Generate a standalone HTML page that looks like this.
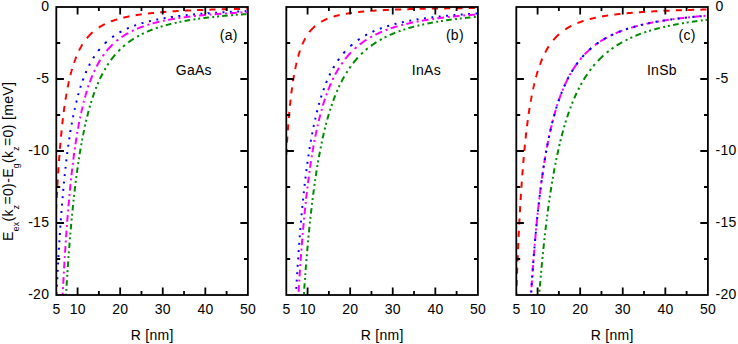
<!DOCTYPE html>
<html><head><meta charset="utf-8"><style>
html,body{margin:0;padding:0;background:#fff;}
body{width:738px;height:344px;overflow:hidden;}
svg{display:block;}
svg text{font-family:"Liberation Sans",sans-serif;}
</style></head><body>
<svg width="738" height="344" viewBox="0 0 738 344">
<defs>
<clipPath id="c0"><rect x="56.30" y="7.00" width="191.60" height="288.00"/></clipPath>
<clipPath id="c1"><rect x="286.30" y="7.00" width="191.60" height="288.00"/></clipPath>
<clipPath id="c2"><rect x="516.30" y="7.00" width="191.60" height="288.00"/></clipPath>
</defs>
<g clip-path="url(#c0)" fill="none" stroke-width="2" stroke-linecap="butt">
<path stroke="#f00" d="M54.60 245.18 54.61 244.90 54.67 243.24 54.73 241.60 54.75 241.05M55.00 234.86 55.01 234.67 55.07 233.12 55.13 231.58 55.20 230.06 55.25 228.76M55.52 222.57 55.52 222.44 55.58 221.01 55.65 219.59 55.71 218.19 55.77 216.80 55.79 216.47M56.08 210.28 56.09 210.07 56.15 208.76 56.21 207.46 56.28 206.18 56.34 204.91 56.38 204.18M56.70 197.99 56.70 197.94 56.76 196.75 56.82 195.57 56.89 194.40 56.95 193.24 57.01 192.09 57.02 191.89M57.38 185.70 57.38 185.61 57.44 184.53 57.51 183.47 57.57 182.41 57.63 181.36 57.70 180.32 57.74 179.60M58.13 173.41 58.14 173.31 58.20 172.34 58.26 171.38 58.33 170.43 58.39 169.49 58.45 168.56 58.52 167.63 58.54 167.31M58.98 161.12 58.98 161.08 59.04 160.22 59.10 159.37 59.17 158.52 59.23 157.68 59.29 156.85 59.36 156.02 59.42 155.21 59.43 155.02M59.93 148.83 59.93 148.77 60.00 148.01 60.06 147.25 60.12 146.51 60.19 145.77 60.25 145.03 60.31 144.30 60.38 143.58 60.44 142.86 60.45 142.73M61.02 136.54 61.03 136.43 61.09 135.77 61.15 135.11 61.22 134.46 61.28 133.82 61.34 133.17 61.40 132.54 61.47 131.91 61.53 131.28 61.59 130.66 61.62 130.44M62.27 124.25 62.28 124.21 62.34 123.64 62.40 123.08 62.47 122.52 62.53 121.96 62.59 121.41 62.66 120.86 62.72 120.32 62.78 119.78 62.84 119.24 62.91 118.71 62.97 118.18 62.97 118.15M63.75 111.96 63.75 111.95 63.81 111.47 63.87 110.99 63.94 110.52 64.00 110.05 64.06 109.58 64.13 109.11 64.19 108.65 64.25 108.19 64.31 107.74 64.38 107.29 64.44 106.84 64.50 106.39 64.57 105.95 64.58 105.86M65.51 99.67 65.51 99.64 65.58 99.25 65.64 98.85 65.70 98.46 65.76 98.07 65.83 97.68 65.89 97.29 65.95 96.91 66.02 96.53 66.08 96.15 66.14 95.77 66.21 95.40 66.27 95.03 66.33 94.66 66.40 94.29 66.46 93.93 66.52 93.57 66.52 93.57M67.67 87.38 67.68 87.32 67.74 87.00 67.80 86.68 67.87 86.37 67.93 86.05 67.99 85.74 68.06 85.43 68.12 85.12 68.18 84.81 68.24 84.50 68.31 84.20 68.37 83.90 68.43 83.60 68.50 83.30 68.56 83.00 68.62 82.71 68.69 82.41 68.75 82.12 68.81 81.83 68.87 81.54 68.93 81.28M70.39 75.09 70.40 75.06 70.46 74.81 70.52 74.57 70.59 74.32 70.65 74.07 70.71 73.83 70.78 73.59 70.84 73.35 70.90 73.11 70.97 72.87 71.03 72.63 71.09 72.39 71.15 72.16 71.22 71.92 71.28 71.69 71.34 71.46 71.41 71.23 71.47 71.00 71.53 70.78 71.60 70.55 71.66 70.32 71.72 70.10 71.78 69.88 71.85 69.66 71.91 69.44 71.97 69.22 72.04 69.00 72.04 68.99M73.99 62.80 73.99 62.78 74.05 62.60 74.12 62.42 74.18 62.23 74.24 62.05 74.31 61.87 74.37 61.69 74.43 61.51 74.50 61.33 74.56 61.16 74.62 60.98 74.68 60.80 74.75 60.63 74.81 60.45 74.87 60.28 74.94 60.11 75.00 59.94 75.06 59.77 75.13 59.60 75.19 59.43 75.25 59.26 75.31 59.09 75.38 58.93 75.44 58.76 75.50 58.60 75.57 58.43 75.63 58.27 75.69 58.11 75.76 57.95 75.82 57.79 75.88 57.63 75.95 57.47 76.01 57.31 76.07 57.15 76.13 56.99 76.20 56.84 76.25 56.70M79.03 50.51 79.03 50.50 79.10 50.38 79.16 50.25 79.22 50.12 79.29 50.00 79.35 49.88 79.41 49.75 79.48 49.63 79.54 49.51 79.60 49.38 79.66 49.26 79.73 49.14 79.79 49.02 79.85 48.90 79.92 48.78 79.98 48.66 80.04 48.54 80.11 48.42 80.17 48.31 80.23 48.19 80.29 48.07 80.36 47.96 80.42 47.84 80.48 47.73 80.55 47.61 80.61 47.50 80.67 47.38 80.74 47.27 80.80 47.16 80.86 47.05 80.92 46.93 80.99 46.82 81.05 46.71 81.11 46.60 81.18 46.49 81.24 46.38 81.30 46.27 81.37 46.17 81.43 46.06 81.49 45.95 81.56 45.84 81.62 45.74 81.68 45.63 81.74 45.52 81.81 45.42 81.87 45.31 81.93 45.21 82.00 45.11 82.06 45.00 82.12 44.90 82.19 44.80 82.25 44.69 82.31 44.59 82.37 44.49 82.43 44.41M86.85 38.22 86.86 38.21 87.18 37.82 87.51 37.44 87.83 37.06 88.15 36.69 88.48 36.33 88.80 35.97 89.13 35.63 89.45 35.28 89.77 34.95 90.10 34.62 90.42 34.29 90.74 33.97 91.07 33.66 91.39 33.35 91.72 33.05 92.04 32.75 92.36 32.46 92.59 32.25M98.78 27.56 98.84 27.53 99.16 27.32 99.48 27.11 99.81 26.91 100.13 26.71 100.46 26.52 100.78 26.32 101.10 26.13 101.43 25.95 101.75 25.76 102.07 25.58 102.40 25.40 102.72 25.23 103.04 25.05 103.37 24.88 103.69 24.71 104.02 24.54 104.34 24.38 104.66 24.22 104.88 24.11M111.07 21.43 111.08 21.42 111.41 21.30 111.73 21.18 112.05 21.06 112.38 20.94 112.70 20.83 113.03 20.71 113.35 20.60 113.67 20.49 114.00 20.37 114.32 20.26 114.64 20.16 114.97 20.05 115.29 19.94 115.62 19.84 115.94 19.74 116.26 19.64 116.59 19.53 116.91 19.44 117.17 19.36M123.36 17.68 123.38 17.67 123.71 17.59 124.03 17.52 124.35 17.44 124.68 17.36 125.00 17.29 125.33 17.22 125.65 17.14 125.97 17.07 126.30 17.00 126.62 16.93 126.94 16.86 127.27 16.79 127.59 16.72 127.92 16.65 128.24 16.58 128.56 16.52 128.89 16.45 129.21 16.39 129.46 16.33M135.65 15.21 135.68 15.21 136.01 15.16 136.33 15.10 136.66 15.05 136.98 15.00 137.30 14.95 137.63 14.90 137.95 14.85 138.27 14.80 138.60 14.75 138.92 14.70 139.25 14.65 139.57 14.61 139.89 14.56 140.22 14.51 140.54 14.46 140.86 14.42 141.19 14.37 141.51 14.33 141.75 14.29M147.94 13.51 147.98 13.50 148.31 13.47 148.63 13.43 148.96 13.39 149.28 13.36 149.60 13.32 149.93 13.28 150.25 13.25 150.57 13.21 150.90 13.18 151.22 13.14 151.55 13.11 151.87 13.07 152.19 13.04 152.52 13.01 152.84 12.97 153.16 12.94 153.49 12.91 153.81 12.87 154.04 12.85M160.23 12.28 160.29 12.27 160.61 12.25 160.93 12.22 161.26 12.19 161.58 12.16 161.90 12.14 162.23 12.11 162.55 12.09 162.88 12.06 163.20 12.03 163.52 12.01 163.85 11.98 164.17 11.96 164.49 11.93 164.82 11.91 165.14 11.88 165.46 11.86 165.79 11.83 166.11 11.81 166.33 11.79M172.52 11.36 172.53 11.36 172.86 11.34 173.18 11.32 173.50 11.30 173.83 11.28 174.15 11.26 174.47 11.24 174.80 11.22 175.12 11.20 175.45 11.18 175.77 11.16 176.09 11.14 176.42 11.12 176.74 11.10 177.06 11.08 177.39 11.06 177.71 11.04 178.03 11.03 178.36 11.01 178.62 10.99M184.81 10.66 184.83 10.66 185.16 10.64 185.48 10.63 185.80 10.61 186.13 10.60 186.45 10.58 186.77 10.56 187.10 10.55 187.42 10.53 187.75 10.52 188.07 10.50 188.39 10.49 188.72 10.47 189.04 10.46 189.36 10.44 189.69 10.43 190.01 10.41 190.34 10.40 190.66 10.38 190.91 10.37M197.10 10.11 197.13 10.11 197.46 10.10 197.78 10.09 198.10 10.07 198.43 10.06 198.75 10.05 199.08 10.04 199.40 10.02 199.72 10.01 200.05 10.00 200.37 9.99 200.69 9.97 201.02 9.96 201.34 9.95 201.66 9.94 201.99 9.93 202.31 9.92 202.64 9.90 202.96 9.89 203.20 9.88M209.39 9.68 209.43 9.67 209.76 9.66 210.08 9.65 210.40 9.64 210.73 9.63 211.05 9.62 211.38 9.61 211.70 9.60 212.02 9.59 212.35 9.58 212.67 9.57 212.99 9.56 213.32 9.56 213.64 9.55 213.97 9.54 214.29 9.53 214.61 9.52 214.94 9.51 215.26 9.50 215.49 9.49M221.68 9.32 221.73 9.32 222.06 9.31 222.38 9.30 222.71 9.30 223.03 9.29 223.35 9.28 223.68 9.27 224.00 9.26 224.32 9.26 224.65 9.25 224.97 9.24 225.30 9.23 225.62 9.22 225.94 9.22 226.27 9.21 226.59 9.20 226.91 9.19 227.24 9.18 227.56 9.18 227.78 9.17M233.97 9.03 233.98 9.03 234.30 9.03 234.63 9.02 234.95 9.01 235.28 9.01 235.60 9.00 235.92 8.99 236.25 8.98 236.57 8.98 236.89 8.97 237.22 8.96 237.54 8.96 237.87 8.95 238.19 8.95 238.51 8.94 238.84 8.93 239.16 8.93 239.48 8.92 239.81 8.91 240.07 8.91M246.26 8.79 246.28 8.79 246.61 8.79 246.93 8.78 247.25 8.77 247.58 8.77 247.90 8.76"/>
<path stroke="#00f" d="M55.93 307.93 55.94 307.68 55.99 306.66M56.22 301.20 56.23 301.18 56.29 299.77 56.31 299.30M56.56 293.84 56.56 293.75 56.62 292.39 56.65 291.94M56.90 286.48 56.91 286.39 56.97 285.08 57.00 284.58M57.26 279.12 57.27 279.10 57.33 277.84 57.36 277.22M57.64 271.76 57.64 271.69 57.71 270.49 57.74 269.86M58.03 264.40 58.04 264.20 58.11 263.05 58.14 262.50M58.44 257.04 58.44 257.03 58.51 255.93 58.55 255.14M58.87 249.68 58.87 249.63 58.94 248.58 58.98 247.78M59.32 242.32 59.32 242.23 59.39 241.22 59.44 240.42M59.79 234.96 59.80 234.84 59.86 233.88 59.91 233.06M60.28 227.60 60.29 227.49 60.35 226.58 60.42 225.70M60.80 220.24 60.81 220.21 60.87 219.34 60.93 218.48 60.94 218.34M61.35 212.88 61.35 212.87 61.42 212.05 61.48 211.23 61.50 210.98M61.93 205.52 61.94 205.39 62.00 204.61 62.07 203.84 62.08 203.62M62.54 198.16 62.55 198.07 62.61 197.34 62.68 196.61 62.71 196.26M63.19 190.80 63.20 190.69 63.26 190.00 63.33 189.31 63.37 188.90M63.88 183.44 63.88 183.41 63.95 182.75 64.01 182.11 64.07 181.54M64.62 176.08 64.62 176.04 64.68 175.43 64.75 174.82 64.81 174.22 64.81 174.18M65.40 168.72 65.41 168.65 65.47 168.08 65.53 167.52 65.60 166.95 65.61 166.82M66.24 161.36 66.25 161.30 66.31 160.77 66.37 160.24 66.44 159.72 66.47 159.46M67.15 154.00 67.15 153.95 67.21 153.45 67.28 152.96 67.34 152.47 67.39 152.10M68.12 146.64 68.13 146.57 68.19 146.12 68.25 145.66 68.32 145.21 68.38 144.76 68.38 144.74M69.18 139.28 69.18 139.25 69.24 138.83 69.31 138.41 69.37 138.00 69.43 137.58 69.46 137.38M70.32 131.92 70.32 131.91 70.39 131.53 70.45 131.14 70.51 130.76 70.58 130.38 70.64 130.02M71.58 124.56 71.59 124.52 71.65 124.17 71.71 123.82 71.77 123.47 71.84 123.12 71.90 122.78 71.92 122.66M72.96 117.20 72.96 117.18 73.02 116.86 73.09 116.54 73.15 116.22 73.21 115.91 73.28 115.59 73.34 115.30M74.48 109.84 74.48 109.83 74.55 109.54 74.61 109.25 74.67 108.97 74.74 108.68 74.80 108.40 74.86 108.12 74.90 107.94M76.18 102.48 76.19 102.46 76.25 102.20 76.31 101.94 76.38 101.69 76.44 101.43 76.50 101.18 76.56 100.92 76.63 100.67 76.65 100.58M78.09 95.12 78.10 95.08 78.16 94.85 78.22 94.62 78.29 94.40 78.35 94.17 78.41 93.95 78.48 93.72 78.54 93.50 78.60 93.28 78.62 93.22M80.25 87.76 80.25 87.75 80.32 87.55 80.38 87.35 80.44 87.15 80.50 86.95 80.57 86.76 80.63 86.56 80.69 86.36 80.76 86.17 80.82 85.97 80.86 85.86M82.73 80.40 82.73 80.39 82.80 80.22 82.86 80.05 82.92 79.87 82.98 79.70 83.05 79.53 83.11 79.36 83.17 79.19 83.24 79.02 83.30 78.85 83.36 78.68 83.43 78.51 83.43 78.50M85.61 73.04 85.62 73.02 85.68 72.87 85.75 72.72 85.81 72.57 85.87 72.43 85.94 72.28 86.00 72.13 86.06 71.99 86.21 71.64 86.44 71.14M89.02 65.68 89.07 65.57 89.40 64.94 89.72 64.32 90.00 63.78M93.13 58.32 93.17 58.25 93.50 57.73 93.82 57.22 94.14 56.71 94.34 56.42M98.22 50.96 98.24 50.93 98.57 50.52 98.89 50.11 99.21 49.71 99.54 49.31 99.75 49.06M104.77 43.60 104.77 43.60 105.09 43.28 105.42 42.97 105.74 42.66 106.07 42.36 106.39 42.06 106.67 41.81M112.13 37.32 112.16 37.29 112.49 37.06 112.81 36.82 113.13 36.59 113.46 36.36 113.78 36.13 114.03 35.96M119.49 32.51 119.50 32.50 119.82 32.32 120.15 32.14 120.47 31.96 120.79 31.78 121.12 31.60 121.39 31.45M126.85 28.75 126.89 28.73 127.21 28.58 127.54 28.44 127.86 28.30 128.19 28.15 128.51 28.01 128.75 27.91M134.21 25.75 134.23 25.74 134.55 25.63 134.88 25.51 135.20 25.40 135.52 25.28 135.85 25.17 136.11 25.08M141.57 23.33 141.62 23.31 141.94 23.21 142.27 23.12 142.59 23.03 142.91 22.93 143.24 22.84 143.47 22.77M148.93 21.33 148.96 21.33 149.28 21.25 149.60 21.17 149.93 21.09 150.25 21.01 150.57 20.94 150.83 20.88M156.29 19.68 156.29 19.68 156.62 19.61 156.94 19.55 157.26 19.48 157.59 19.42 157.91 19.35 158.19 19.30M163.65 18.29 163.68 18.29 164.01 18.23 164.33 18.17 164.66 18.12 164.98 18.06 165.30 18.01 165.55 17.97M171.01 17.12 171.02 17.11 171.35 17.07 171.67 17.02 171.99 16.97 172.32 16.93 172.64 16.88 172.91 16.84M178.37 16.11 178.41 16.10 178.74 16.06 179.06 16.02 179.38 15.98 179.71 15.94 180.03 15.90 180.27 15.87M185.73 15.24 185.75 15.24 186.07 15.21 186.40 15.17 186.72 15.14 187.04 15.10 187.37 15.07 187.63 15.04M193.09 14.49 193.14 14.49 193.46 14.46 193.79 14.43 194.11 14.40 194.44 14.37 194.76 14.34 194.99 14.32M200.45 13.84 200.48 13.84 200.80 13.81 201.13 13.78 201.45 13.76 201.77 13.73 202.10 13.70 202.35 13.68M207.81 13.27 207.82 13.26 208.14 13.24 208.46 13.22 208.79 13.19 209.11 13.17 209.43 13.15 209.71 13.13M215.17 12.76 215.21 12.76 215.53 12.74 215.85 12.71 216.18 12.69 216.50 12.67 216.82 12.65 217.07 12.64M222.53 12.31 222.54 12.31 222.87 12.29 223.19 12.27 223.51 12.25 223.84 12.23 224.16 12.22 224.43 12.20M229.89 11.91 229.93 11.91 230.26 11.89 230.58 11.87 230.91 11.86 231.23 11.84 231.55 11.83 231.79 11.81M237.25 11.55 237.27 11.55 237.60 11.54 237.92 11.52 238.24 11.51 238.57 11.49 238.89 11.48 239.15 11.47M244.61 11.23 244.61 11.23 244.93 11.22 245.26 11.20 245.58 11.19 245.90 11.18 246.23 11.17 246.51 11.15"/>
<path stroke="#f0f" d="M62.21 304.53 62.22 304.33 62.29 303.01 62.31 302.63M62.46 299.36 62.47 299.31 62.53 298.02 62.59 296.74 62.66 295.47 62.72 294.20 62.78 292.95 62.80 292.66M62.98 289.01 62.99 288.82 63.05 287.60 63.08 287.11M63.25 283.84 63.25 283.78 63.32 282.59 63.38 281.41 63.44 280.24 63.51 279.07 63.57 277.91 63.61 277.14M63.81 273.49 63.82 273.34 63.88 272.22 63.92 271.59M64.11 268.32 64.12 268.16 64.18 267.07 64.24 265.98 64.30 264.91 64.37 263.83 64.43 262.77 64.49 261.71 64.50 261.62M64.72 257.97 64.72 257.88 64.79 256.86 64.84 256.07M65.04 252.80 65.04 252.80 65.10 251.80 65.17 250.81 65.23 249.83 65.29 248.85 65.36 247.87 65.42 246.90 65.47 246.10M65.71 242.45 65.72 242.30 65.79 241.36 65.84 240.55M66.07 237.28 66.07 237.22 66.13 236.32 66.20 235.41 66.26 234.52 66.32 233.63 66.38 232.74 66.45 231.86 66.51 230.99 66.54 230.58M66.81 226.93 66.82 226.83 66.88 225.98 66.94 225.14 66.95 225.03M67.20 221.76 67.20 221.68 67.27 220.87 67.33 220.05 67.39 219.25 67.46 218.44 67.52 217.64 67.58 216.85 67.65 216.06 67.71 215.27 67.73 215.06M68.02 211.41 68.02 211.41 68.09 210.65 68.15 209.89 68.18 209.51M68.46 206.24 68.46 206.17 68.53 205.44 68.59 204.72 68.65 203.99 68.72 203.27 68.78 202.56 68.84 201.84 68.91 201.14 68.97 200.43 69.03 199.73 69.05 199.54M69.38 195.89 69.39 195.83 69.45 195.16 69.52 194.48 69.56 193.99M69.87 190.72 69.88 190.63 69.95 189.98 70.01 189.34 70.07 188.69 70.14 188.06 70.20 187.42 70.26 186.79 70.32 186.16 70.39 185.53 70.45 184.91 70.51 184.29 70.54 184.02M70.92 180.37 70.92 180.35 70.99 179.75 71.05 179.16 71.11 178.57 71.12 178.47M71.48 175.20 71.48 175.19 71.54 174.62 71.61 174.05 71.67 173.49 71.73 172.93 71.80 172.37 71.86 171.81 71.92 171.26 71.98 170.71 72.05 170.16 72.11 169.62 72.17 169.08 72.24 168.54 72.24 168.50M72.68 164.85 72.68 164.83 72.74 164.32 72.80 163.80 72.87 163.29 72.91 162.95M73.32 159.68 73.32 159.68 73.38 159.19 73.44 158.69 73.51 158.21 73.57 157.72 73.63 157.23 73.70 156.75 73.76 156.27 73.82 155.80 73.89 155.32 73.95 154.85 74.01 154.38 74.08 153.91 74.14 153.44 74.20 152.98M74.71 149.33 74.72 149.27 74.78 148.82 74.84 148.38 74.91 147.94 74.97 147.50 74.98 147.43M75.46 144.16 75.46 144.14 75.52 143.72 75.59 143.30 75.65 142.88 75.71 142.46 75.78 142.05 75.84 141.64 75.90 141.23 75.97 140.82 76.03 140.42 76.09 140.01 76.16 139.61 76.22 139.21 76.28 138.81 76.34 138.41 76.41 138.02 76.47 137.62 76.50 137.46M77.10 133.81 77.10 133.78 77.16 133.41 77.23 133.04 77.29 132.67 77.35 132.30 77.42 131.93 77.42 131.91M77.99 128.64 77.99 128.63 78.06 128.27 78.12 127.92 78.18 127.57 78.25 127.23 78.31 126.88 78.37 126.53 78.44 126.19 78.50 125.85 78.56 125.51 78.62 125.17 78.69 124.83 78.75 124.50 78.81 124.16 78.88 123.83 78.94 123.50 79.00 123.17 79.07 122.84 79.13 122.51 79.19 122.18 79.24 121.94M79.96 118.29 79.97 118.27 80.03 117.96 80.10 117.65 80.16 117.34 80.22 117.04 80.28 116.74 80.35 116.43 80.36 116.39M81.05 113.12 81.06 113.09 81.12 112.80 81.19 112.52 81.25 112.23 81.31 111.95 81.38 111.66 81.44 111.38 81.50 111.10 81.57 110.82 81.63 110.54 81.69 110.27 81.75 109.99 81.82 109.71 81.88 109.44 81.94 109.17 82.01 108.90 82.07 108.63 82.13 108.36 82.20 108.09 82.26 107.82 82.32 107.55 82.39 107.29 82.45 107.02 82.51 106.76 82.57 106.50 82.59 106.42M83.50 102.77 83.50 102.76 83.56 102.51 83.63 102.27 83.69 102.02 83.75 101.78 83.81 101.54 83.88 101.29 83.94 101.05 83.99 100.87M84.87 97.60 84.88 97.58 84.94 97.35 85.00 97.12 85.06 96.90 85.13 96.67 85.19 96.45 85.25 96.23 85.32 96.00 85.38 95.78 85.44 95.56 85.51 95.34 85.57 95.12 85.63 94.90 85.69 94.69 85.76 94.47 85.82 94.25 85.88 94.04 85.95 93.83 86.01 93.61 86.07 93.40 86.27 92.75 86.59 91.68 86.83 90.90M88.00 87.25 88.05 87.11 88.37 86.15 88.64 85.35M89.80 82.08 89.83 82.01 90.15 81.14 90.47 80.28 90.80 79.43 91.12 78.60 91.45 77.78 91.77 76.98 92.09 76.19 92.42 75.42 92.43 75.38M94.03 71.73 94.04 71.72 94.36 71.02 94.68 70.33 94.92 69.83M96.54 66.56 96.57 66.51 96.89 65.89 97.22 65.28 97.54 64.68 97.87 64.09 98.19 63.51 98.51 62.93 98.84 62.37 99.16 61.81 99.48 61.26 99.81 60.72 100.13 60.19 100.33 59.86M102.72 56.21 102.72 56.21 103.04 55.74 103.37 55.28 103.69 54.83 104.02 54.38 104.06 54.31M106.59 51.04 106.61 51.02 106.93 50.63 107.25 50.24 107.58 49.85 107.90 49.47 108.22 49.10 108.55 48.73 108.87 48.37 109.19 48.01 109.52 47.65 109.84 47.30 110.17 46.96 110.49 46.61 110.81 46.28 111.14 45.95 111.46 45.62 111.78 45.29 112.11 44.97 112.43 44.66 112.73 44.37M116.38 41.10 116.42 41.06 116.75 40.80 117.07 40.53 117.40 40.27 117.72 40.01 118.04 39.75 118.28 39.56M121.55 37.16 121.60 37.12 121.93 36.90 122.25 36.68 122.57 36.46 122.90 36.25 123.22 36.03 123.55 35.82 123.87 35.62 124.19 35.41 124.52 35.20 124.84 35.00 125.16 34.80 125.49 34.61 125.81 34.41 126.14 34.22 126.46 34.03 126.78 33.84 127.11 33.65 127.43 33.46 127.75 33.28 128.08 33.10 128.25 33.00M131.90 31.09 131.91 31.09 132.23 30.93 132.56 30.77 132.88 30.62 133.20 30.46 133.53 30.31 133.80 30.18M137.07 28.73 137.09 28.73 137.41 28.59 137.73 28.46 138.06 28.32 138.38 28.19 138.71 28.06 139.03 27.93 139.35 27.80 139.68 27.68 140.00 27.55 140.32 27.42 140.65 27.30 140.97 27.18 141.30 27.06 141.62 26.94 141.94 26.82 142.27 26.70 142.59 26.58 142.91 26.47 143.24 26.35 143.56 26.24 143.77 26.16M147.42 24.95 147.45 24.95 147.77 24.85 148.09 24.74 148.42 24.65 148.74 24.55 149.06 24.45 149.32 24.37M152.59 23.43 152.62 23.42 152.95 23.33 153.27 23.25 153.60 23.16 153.92 23.07 154.24 22.99 154.57 22.90 154.89 22.82 155.21 22.73 155.54 22.65 155.86 22.57 156.19 22.49 156.51 22.41 156.83 22.33 157.16 22.25 157.48 22.17 157.80 22.09 158.13 22.01 158.45 21.93 158.77 21.86 159.10 21.78 159.29 21.73M162.94 20.92 162.98 20.91 163.31 20.84 163.63 20.78 163.95 20.71 164.28 20.64 164.60 20.57 164.84 20.53M168.11 19.88 168.16 19.87 168.49 19.81 168.81 19.75 169.13 19.69 169.46 19.63 169.78 19.57 170.10 19.51 170.43 19.46 170.75 19.40 171.08 19.34 171.40 19.28 171.72 19.23 172.05 19.17 172.37 19.11 172.69 19.06 173.02 19.00 173.34 18.95 173.67 18.89 173.99 18.84 174.31 18.79 174.64 18.73 174.81 18.70M178.46 18.13 178.47 18.13 178.79 18.08 179.11 18.03 179.44 17.99 179.76 17.94 180.09 17.89 180.36 17.85M183.63 17.39 183.65 17.39 183.97 17.35 184.29 17.30 184.62 17.26 184.94 17.22 185.26 17.17 185.59 17.13 185.91 17.09 186.24 17.05 186.56 17.01 186.88 16.96 187.21 16.92 187.53 16.88 187.85 16.84 188.18 16.80 188.50 16.76 188.82 16.72 189.15 16.68 189.47 16.64 189.80 16.60 190.12 16.57 190.33 16.54M193.98 16.12 194.00 16.12 194.33 16.08 194.65 16.05 194.98 16.01 195.30 15.98 195.62 15.94 195.88 15.92M199.15 15.58 199.18 15.57 199.51 15.54 199.83 15.51 200.15 15.48 200.48 15.44 200.80 15.41 201.13 15.38 201.45 15.35 201.77 15.32 202.10 15.29 202.42 15.26 202.74 15.23 203.07 15.20 203.39 15.17 203.72 15.14 204.04 15.11 204.36 15.08 204.69 15.05 205.01 15.02 205.33 14.99 205.66 14.96 205.85 14.94M209.50 14.63 209.54 14.62 209.87 14.60 210.19 14.57 210.51 14.54 210.84 14.51 211.16 14.49 211.40 14.47M214.67 14.21 214.72 14.21 215.04 14.18 215.37 14.16 215.69 14.13 216.02 14.11 216.34 14.08 216.66 14.06 216.99 14.04 217.31 14.01 217.63 13.99 217.96 13.97 218.28 13.94 218.61 13.92 218.93 13.90 219.25 13.87 219.58 13.85 219.90 13.83 220.22 13.80 220.55 13.78 220.87 13.76 221.19 13.74 221.37 13.72M225.02 13.48 225.03 13.48 225.35 13.46 225.67 13.44 226.00 13.42 226.32 13.40 226.64 13.38 226.92 13.36M230.19 13.16 230.20 13.16 230.53 13.14 230.85 13.12 231.18 13.10 231.50 13.08 231.82 13.06 232.15 13.04 232.47 13.02 232.79 13.01 233.12 12.99 233.44 12.97 233.77 12.95 234.09 12.93 234.41 12.91 234.74 12.90 235.06 12.88 235.38 12.86 235.71 12.84 236.03 12.82 236.35 12.81 236.68 12.79 236.89 12.78M240.54 12.59 240.56 12.58 240.89 12.57 241.21 12.55 241.53 12.54 241.86 12.52 242.18 12.50 242.44 12.49M245.71 12.33 245.74 12.33 246.07 12.31 246.39 12.30 246.71 12.28 247.04 12.27 247.36 12.25 247.68 12.24 247.90 12.23"/>
<path stroke="#008c00" d="M65.26 307.91 65.27 307.77M65.45 304.52 65.46 304.37 65.52 303.27 65.59 302.17 65.65 301.08 65.71 300.00 65.77 299.02M65.97 295.62 65.97 295.54 66.04 294.48 66.08 293.72M66.26 290.87 66.26 290.83 66.32 289.80 66.37 288.97M66.57 285.72 66.58 285.57 66.65 284.56 66.71 283.57 66.77 282.58 66.84 281.59 66.90 280.61 66.92 280.22M67.15 276.82 67.15 276.74 67.21 275.78 67.27 274.92M67.46 272.07 67.47 272.01 67.53 271.08 67.59 270.17M67.82 266.92 67.82 266.80 67.89 265.89 67.95 264.99 68.01 264.10 68.08 263.21 68.14 262.32 68.20 261.44 68.20 261.42M68.45 258.02 68.45 257.96 68.52 257.10 68.58 256.25 68.59 256.12M68.80 253.27 68.81 253.15 68.87 252.32 68.94 251.49 68.95 251.37M69.20 248.12 69.20 248.07 69.26 247.26 69.33 246.46 69.39 245.65 69.45 244.86 69.52 244.06 69.58 243.27 69.63 242.62M69.91 239.22 69.91 239.13 69.98 238.36 70.04 237.60 70.06 237.32M70.30 234.47 70.30 234.47 70.37 233.72 70.43 232.98 70.47 232.57M70.75 229.32 70.76 229.22 70.82 228.50 70.88 227.79 70.94 227.08 71.01 226.37 71.07 225.67 71.13 224.97 71.20 224.27 71.24 223.82M71.55 220.42 71.55 220.38 71.62 219.70 71.68 219.03 71.73 218.52M72.00 215.67 72.01 215.60 72.07 214.95 72.13 214.30 72.18 213.77M72.50 210.52 72.51 210.46 72.57 209.83 72.64 209.20 72.70 208.58 72.76 207.96 72.82 207.34 72.89 206.72 72.95 206.11 73.01 205.50 73.06 205.02M73.42 201.62 73.42 201.60 73.49 201.01 73.55 200.42 73.61 199.84 73.63 199.72M73.94 196.87 73.94 196.86 74.00 196.29 74.06 195.72 74.13 195.16 74.15 194.97M74.52 191.72 74.53 191.65 74.59 191.10 74.65 190.56 74.72 190.02 74.78 189.48 74.84 188.94 74.91 188.41 74.97 187.87 75.03 187.35 75.09 186.82 75.16 186.29 75.17 186.22M75.58 182.82 75.59 182.77 75.65 182.26 75.71 181.75 75.78 181.25 75.82 180.92M76.18 178.07 76.19 178.03 76.25 177.54 76.31 177.06 76.38 176.58 76.43 176.17M76.86 172.92 76.87 172.86 76.93 172.39 77.00 171.93 77.06 171.47 77.12 171.01 77.18 170.55 77.25 170.09 77.31 169.64 77.37 169.19 77.44 168.74 77.50 168.29 77.56 167.84 77.62 167.42M78.11 164.02 78.12 163.97 78.18 163.54 78.25 163.12 78.31 162.69 78.37 162.27 78.39 162.12M78.82 159.27 78.83 159.21 78.90 158.80 78.96 158.39 79.02 157.98 79.09 157.58 79.12 157.37M79.63 154.12 79.64 154.06 79.71 153.67 79.77 153.29 79.83 152.90 79.90 152.51 79.96 152.13 80.02 151.75 80.08 151.37 80.15 150.99 80.21 150.61 80.27 150.23 80.34 149.86 80.40 149.49 80.46 149.11 80.53 148.74 80.55 148.62M81.14 145.22 81.15 145.17 81.21 144.82 81.27 144.46 81.33 144.11 81.40 143.76 81.46 143.41 81.48 143.32M82.00 140.47 82.01 140.43 82.07 140.09 82.13 139.76 82.20 139.42 82.26 139.09 82.32 138.76 82.36 138.57M82.99 135.32 82.99 135.28 83.06 134.97 83.12 134.65 83.18 134.33 83.25 134.02 83.31 133.70 83.37 133.39 83.44 133.08 83.50 132.77 83.56 132.46 83.63 132.15 83.69 131.84 83.75 131.54 83.81 131.23 83.88 130.93 83.94 130.63 84.00 130.33 84.07 130.03 84.11 129.82M84.84 126.42 84.84 126.41 84.91 126.12 84.97 125.84 85.03 125.55 85.10 125.27 85.16 124.99 85.22 124.70 85.26 124.52M85.92 121.67 85.93 121.63 85.99 121.36 86.05 121.09 86.16 120.64 86.37 119.77M87.16 116.52 87.18 116.42 87.51 115.14 87.83 113.88 88.15 112.64 88.48 111.42 88.59 111.02M89.53 107.62 89.56 107.51 89.88 106.38 90.07 105.72M90.92 102.87 90.96 102.74 91.28 101.69 91.51 100.97M92.55 97.72 92.58 97.64 92.90 96.67 93.23 95.71 93.55 94.77 93.87 93.85 94.20 92.94 94.46 92.22M95.73 88.82 95.76 88.72 96.09 87.89 96.41 87.07 96.47 86.92M97.64 84.07 97.65 84.04 97.97 83.27 98.30 82.52 98.45 82.17M99.92 78.92 99.97 78.81 100.29 78.12 100.62 77.44 100.94 76.77 101.26 76.11 101.59 75.46 101.91 74.82 102.24 74.19 102.56 73.57 102.64 73.42M104.49 70.02 104.50 70.00 104.83 69.44 105.15 68.88 105.47 68.33 105.60 68.12M107.35 65.27 107.36 65.25 107.68 64.75 108.01 64.25 108.33 63.76 108.59 63.37M110.87 60.12 110.92 60.05 111.25 59.61 111.57 59.18 111.89 58.75 112.22 58.32 112.54 57.91 112.86 57.49 113.19 57.09 113.51 56.68 113.83 56.29 114.16 55.89 114.48 55.51 114.81 55.12 115.13 54.74 115.24 54.62M118.33 51.22 118.37 51.18 118.69 50.85 119.01 50.52 119.34 50.19 119.66 49.87 119.98 49.55 120.21 49.33M123.06 46.68 123.11 46.64 123.44 46.36 123.76 46.07 124.09 45.80 124.41 45.52 124.73 45.25 124.96 45.06M128.21 42.50 128.24 42.48 128.56 42.24 128.89 42.00 129.21 41.76 129.53 41.53 129.86 41.30 130.18 41.07 130.51 40.84 130.83 40.62 131.15 40.40 131.48 40.18 131.80 39.96 132.12 39.74 132.45 39.53 132.77 39.32 133.09 39.11 133.42 38.90 133.71 38.71M137.11 36.67 137.14 36.66 137.46 36.47 137.79 36.29 138.11 36.11 138.44 35.93 138.76 35.75 139.01 35.61M141.86 34.13 141.89 34.12 142.21 33.96 142.54 33.80 142.86 33.64 143.18 33.48 143.51 33.33 143.76 33.21M147.01 31.73 147.01 31.73 147.34 31.59 147.66 31.45 147.98 31.31 148.31 31.18 148.63 31.04 148.96 30.91 149.28 30.77 149.60 30.64 149.93 30.51 150.25 30.38 150.57 30.25 150.90 30.13 151.22 30.00 151.55 29.87 151.87 29.75 152.19 29.63 152.51 29.50M155.91 28.28 155.92 28.27 156.24 28.16 156.56 28.05 156.89 27.94 157.21 27.83 157.53 27.72 157.81 27.63M160.66 26.72 160.66 26.72 160.99 26.62 161.31 26.52 161.63 26.42 161.96 26.33 162.28 26.23 162.56 26.15M165.81 25.22 165.84 25.21 166.17 25.13 166.49 25.04 166.81 24.95 167.14 24.86 167.46 24.78 167.78 24.69 168.11 24.61 168.43 24.52 168.76 24.44 169.08 24.36 169.40 24.28 169.73 24.20 170.05 24.11 170.37 24.03 170.70 23.95 171.02 23.87 171.31 23.80M174.71 23.01 174.74 23.00 175.07 22.93 175.39 22.86 175.72 22.79 176.04 22.71 176.36 22.64 176.61 22.59M179.46 21.99 179.49 21.98 179.82 21.92 180.14 21.85 180.46 21.79 180.79 21.72 181.11 21.66 181.36 21.61M184.61 20.99 184.62 20.99 184.94 20.93 185.26 20.88 185.59 20.82 185.91 20.76 186.24 20.70 186.56 20.64 186.88 20.59 187.21 20.53 187.53 20.47 187.85 20.42 188.18 20.36 188.50 20.31 188.82 20.25 189.15 20.20 189.47 20.14 189.80 20.09 190.11 20.04M193.51 19.49 193.52 19.49 193.84 19.44 194.17 19.39 194.49 19.34 194.81 19.30 195.14 19.25 195.41 19.21M198.26 18.79 198.27 18.79 198.59 18.75 198.91 18.70 199.24 18.65 199.56 18.61 199.88 18.57 200.16 18.53M203.41 18.10 203.45 18.09 203.77 18.05 204.09 18.01 204.42 17.97 204.74 17.93 205.06 17.89 205.39 17.85 205.71 17.81 206.03 17.77 206.36 17.73 206.68 17.69 207.01 17.65 207.33 17.61 207.65 17.57 207.98 17.53 208.30 17.49 208.62 17.45 208.91 17.42M212.31 17.03 212.35 17.03 212.67 16.99 212.99 16.96 213.32 16.92 213.64 16.89 213.97 16.85 214.21 16.83M217.06 16.53 217.09 16.53 217.42 16.49 217.74 16.46 218.07 16.43 218.39 16.39 218.71 16.36 218.96 16.34M222.21 16.02 222.22 16.02 222.54 15.99 222.87 15.96 223.19 15.93 223.51 15.90 223.84 15.87 224.16 15.84 224.49 15.81 224.81 15.78 225.13 15.76 225.46 15.73 225.78 15.70 226.10 15.67 226.43 15.64 226.75 15.61 227.08 15.58 227.40 15.56 227.71 15.53M231.11 15.24 231.12 15.24 231.45 15.22 231.77 15.19 232.09 15.16 232.42 15.14 232.74 15.11 233.01 15.09M235.86 14.87 235.87 14.87 236.19 14.84 236.52 14.82 236.84 14.80 237.16 14.77 237.49 14.75 237.76 14.73M241.01 14.49 241.05 14.49 241.37 14.47 241.70 14.44 242.02 14.42 242.34 14.40 242.67 14.38 242.99 14.35 243.31 14.33 243.64 14.31 243.96 14.29 244.29 14.27 244.61 14.24 244.93 14.22 245.26 14.20 245.58 14.18 245.90 14.16 246.23 14.14 246.51 14.12"/>
</g>
<g clip-path="url(#c1)" fill="none" stroke-width="2" stroke-linecap="butt">
<path stroke="#f00" d="M284.60 189.38 284.61 189.13 284.67 187.62 284.73 186.13 284.75 185.71M285.02 179.52 285.03 179.41 285.09 178.02 285.15 176.64 285.22 175.28 285.28 173.94 285.30 173.42M285.61 167.23 285.62 167.03 285.68 165.78 285.74 164.54 285.81 163.32 285.87 162.11 285.92 161.13M286.26 154.94 286.27 154.77 286.33 153.65 286.39 152.55 286.46 151.46 286.52 150.39 286.58 149.32 286.61 148.84M286.99 142.65 287.00 142.50 287.07 141.52 287.13 140.55 287.19 139.59 287.25 138.64 287.32 137.70 287.38 136.77 287.40 136.55M287.83 130.36 287.84 130.22 287.91 129.37 287.97 128.52 288.03 127.69 288.10 126.86 288.16 126.04 288.22 125.22 288.28 124.42 288.30 124.26M288.81 118.07 288.81 118.01 288.87 117.28 288.94 116.55 289.00 115.83 289.06 115.12 289.12 114.42 289.19 113.72 289.25 113.02 289.31 112.34 289.35 111.97M289.95 105.78 289.95 105.72 290.02 105.10 290.08 104.49 290.14 103.88 290.21 103.28 290.27 102.68 290.33 102.09 290.40 101.51 290.46 100.93 290.52 100.35 290.59 99.78 290.60 99.68M291.32 93.49 291.33 93.41 291.39 92.90 291.46 92.40 291.52 91.90 291.58 91.41 291.65 90.91 291.71 90.43 291.77 89.94 291.84 89.47 291.90 88.99 291.96 88.52 292.02 88.05 292.09 87.59 292.12 87.39M293.02 81.20 293.02 81.16 293.09 80.75 293.15 80.35 293.21 79.95 293.27 79.55 293.34 79.16 293.40 78.77 293.46 78.38 293.53 78.00 293.59 77.62 293.65 77.24 293.72 76.87 293.78 76.49 293.84 76.13 293.91 75.76 293.97 75.40 294.02 75.10M295.18 68.91 295.19 68.90 295.25 68.58 295.31 68.28 295.38 67.97 295.44 67.67 295.50 67.36 295.57 67.06 295.63 66.77 295.69 66.47 295.75 66.18 295.82 65.89 295.88 65.60 295.94 65.31 296.01 65.03 296.07 64.74 296.13 64.46 296.20 64.18 296.26 63.91 296.32 63.63 296.38 63.36 296.45 63.09 296.51 62.82 296.51 62.81M298.10 56.62 298.11 56.60 298.17 56.38 298.23 56.15 298.30 55.93 298.36 55.71 298.42 55.50 298.49 55.28 298.55 55.06 298.61 54.85 298.67 54.64 298.74 54.43 298.80 54.22 298.86 54.01 298.93 53.80 298.99 53.60 299.05 53.39 299.12 53.19 299.18 52.99 299.24 52.79 299.31 52.59 299.37 52.39 299.43 52.19 299.49 52.00 299.56 51.81 299.62 51.61 299.68 51.42 299.75 51.23 299.81 51.04 299.87 50.85 299.94 50.67 299.99 50.52M302.35 44.33 302.35 44.32 302.42 44.18 302.48 44.03 302.54 43.88 302.60 43.74 302.67 43.60 302.73 43.45 302.79 43.31 302.86 43.17 302.92 43.03 302.98 42.89 303.05 42.75 303.11 42.62 303.17 42.48 303.23 42.34 303.30 42.21 303.36 42.07 303.42 41.94 303.49 41.81 303.55 41.68 303.61 41.54 303.68 41.41 303.74 41.28 303.80 41.15 303.86 41.03 303.93 40.90 303.99 40.77 304.05 40.64 304.12 40.52 304.18 40.39 304.24 40.27 304.31 40.15 304.37 40.02 304.43 39.90 304.50 39.78 304.56 39.66 304.62 39.54 304.68 39.42 304.75 39.30 304.81 39.18 304.87 39.06 304.94 38.95 305.00 38.83 305.06 38.72 305.13 38.60 305.19 38.49 305.25 38.37 305.31 38.26 305.33 38.23M309.42 32.04 309.42 32.03 309.49 31.95 309.55 31.87 309.61 31.79 309.67 31.71 309.74 31.63 309.80 31.55 309.86 31.47 309.93 31.39 309.99 31.32 310.05 31.24 310.12 31.16 310.18 31.09 310.24 31.01 310.31 30.93 310.37 30.86 310.43 30.78 310.49 30.71 310.56 30.63 310.62 30.56 310.68 30.49 310.75 30.41 310.81 30.34 310.87 30.27 310.94 30.20 311.00 30.12 311.06 30.05 311.12 29.98 311.19 29.91 311.25 29.84 311.31 29.77 311.38 29.70 311.44 29.63 311.50 29.56 311.57 29.49 311.63 29.42 311.69 29.36 311.75 29.29 311.82 29.22 311.88 29.15 311.94 29.09 312.01 29.02 312.07 28.95 312.13 28.89 312.20 28.82 312.26 28.75 312.32 28.69 312.39 28.62 312.45 28.56 312.51 28.50 312.57 28.43 312.64 28.37 312.70 28.30 312.76 28.24 312.83 28.18 312.89 28.12 312.95 28.05 313.02 27.99 313.08 27.93 313.14 27.87 313.20 27.81 313.27 27.75 313.33 27.68 313.39 27.62 313.46 27.56 313.52 27.50 313.58 27.44 313.65 27.38 313.71 27.33 313.77 27.27 313.84 27.21 313.90 27.15 313.96 27.09 314.02 27.03 314.09 26.98 314.15 26.92 314.21 26.86 314.28 26.80 314.34 26.75 314.40 26.69 314.47 26.64 314.53 26.58 314.59 26.52 314.65 26.47 314.72 26.41 314.78 26.36 314.84 26.30 314.91 26.25 314.97 26.20 315.03 26.14 315.07 26.11M321.26 21.76 321.28 21.75 321.61 21.56 321.93 21.38 322.25 21.20 322.58 21.03 322.90 20.86 323.23 20.69 323.55 20.53 323.87 20.36 324.20 20.21 324.52 20.05 324.84 19.90 325.17 19.75 325.49 19.60 325.82 19.45 326.14 19.31 326.46 19.17 326.79 19.03 327.11 18.90 327.36 18.80M333.55 16.62 333.58 16.61 333.91 16.52 334.23 16.42 334.56 16.33 334.88 16.24 335.20 16.15 335.53 16.06 335.85 15.97 336.17 15.88 336.50 15.80 336.82 15.72 337.14 15.63 337.47 15.55 337.79 15.47 338.12 15.39 338.44 15.31 338.76 15.24 339.09 15.16 339.41 15.09 339.65 15.03M345.84 13.80 345.88 13.79 346.21 13.73 346.53 13.68 346.86 13.62 347.18 13.57 347.50 13.51 347.83 13.46 348.15 13.41 348.47 13.36 348.80 13.31 349.12 13.26 349.45 13.21 349.77 13.16 350.09 13.11 350.42 13.06 350.74 13.01 351.06 12.97 351.39 12.92 351.71 12.87 351.94 12.84M358.13 12.07 358.13 12.07 358.46 12.04 358.78 12.00 359.10 11.97 359.43 11.93 359.75 11.90 360.07 11.86 360.40 11.83 360.72 11.80 361.04 11.76 361.37 11.73 361.69 11.70 362.02 11.67 362.34 11.63 362.66 11.60 362.99 11.57 363.31 11.54 363.63 11.51 363.96 11.48 364.23 11.46M370.42 10.94 370.43 10.94 370.76 10.92 371.08 10.89 371.40 10.87 371.73 10.85 372.05 10.82 372.37 10.80 372.70 10.78 373.02 10.76 373.35 10.73 373.67 10.71 373.99 10.69 374.32 10.67 374.64 10.64 374.96 10.62 375.29 10.60 375.61 10.58 375.93 10.56 376.26 10.54 376.52 10.52M382.71 10.16 382.73 10.16 383.06 10.14 383.38 10.13 383.70 10.11 384.03 10.09 384.35 10.08 384.67 10.06 385.00 10.04 385.32 10.03 385.65 10.01 385.97 10.00 386.29 9.98 386.62 9.96 386.94 9.95 387.26 9.93 387.59 9.92 387.91 9.90 388.24 9.89 388.56 9.87 388.81 9.86M395.00 9.60 395.03 9.60 395.36 9.59 395.68 9.57 396.00 9.56 396.33 9.55 396.65 9.54 396.98 9.52 397.30 9.51 397.62 9.50 397.95 9.49 398.27 9.48 398.59 9.46 398.92 9.45 399.24 9.44 399.56 9.43 399.89 9.42 400.21 9.41 400.54 9.40 400.86 9.39 401.10 9.38M407.29 9.18 407.33 9.18 407.66 9.17 407.98 9.16 408.30 9.15 408.63 9.14 408.95 9.13 409.28 9.12 409.60 9.11 409.92 9.10 410.25 9.09 410.57 9.09 410.89 9.08 411.22 9.07 411.54 9.06 411.87 9.05 412.19 9.04 412.51 9.03 412.84 9.02 413.16 9.02 413.39 9.01M419.58 8.86 419.58 8.86 419.90 8.85 420.23 8.84 420.55 8.84 420.88 8.83 421.20 8.82 421.52 8.81 421.85 8.81 422.17 8.80 422.49 8.79 422.82 8.78 423.14 8.78 423.46 8.77 423.79 8.76 424.11 8.76 424.44 8.75 424.76 8.74 425.08 8.74 425.41 8.73 425.68 8.72M431.87 8.60 431.88 8.60 432.20 8.60 432.53 8.59 432.85 8.59 433.18 8.58 433.50 8.57 433.82 8.57 434.15 8.56 434.47 8.56 434.79 8.55 435.12 8.55 435.44 8.54 435.77 8.54 436.09 8.53 436.41 8.52 436.74 8.52 437.06 8.51 437.38 8.51 437.71 8.50 437.97 8.50M444.16 8.40 444.18 8.40 444.51 8.40 444.83 8.39 445.15 8.39 445.48 8.38 445.80 8.38 446.12 8.37 446.45 8.37 446.77 8.36 447.09 8.36 447.42 8.35 447.74 8.35 448.07 8.35 448.39 8.34 448.71 8.34 449.04 8.33 449.36 8.33 449.68 8.32 450.01 8.32 450.26 8.32M456.45 8.24 456.48 8.24 456.81 8.23 457.13 8.23 457.45 8.23 457.78 8.22 458.10 8.22 458.42 8.21 458.75 8.21 459.07 8.21 459.40 8.20 459.72 8.20 460.04 8.19 460.37 8.19 460.69 8.19 461.01 8.18 461.34 8.18 461.66 8.18 461.98 8.17 462.31 8.17 462.55 8.17M468.74 8.10 468.78 8.10 469.11 8.10 469.43 8.09 469.75 8.09 470.08 8.09 470.40 8.08 470.72 8.08 471.05 8.08 471.37 8.08 471.70 8.07 472.02 8.07 472.34 8.07 472.67 8.06 472.99 8.06 473.31 8.06 473.64 8.05 473.96 8.05 474.29 8.05 474.61 8.04 474.84 8.04"/>
<path stroke="#00f" d="M295.43 303.57 295.44 303.38 295.50 302.20 295.53 301.67M295.83 296.21 295.84 296.06 295.90 294.93 295.94 294.31M296.25 288.85 296.25 288.82 296.31 287.74 296.36 286.95M296.68 281.49 296.69 281.33 296.75 280.29 296.79 279.59M297.13 274.13 297.14 273.96 297.20 272.96 297.25 272.23M297.60 266.77 297.60 266.72 297.67 265.76 297.72 264.87M298.09 259.41 298.10 259.31 298.16 258.38 298.22 257.51M298.60 252.05 298.61 251.91 298.67 251.02 298.74 250.15M299.14 244.69 299.14 244.68 299.20 243.84 299.26 242.99 299.28 242.79M299.70 237.33 299.70 237.23 299.77 236.42 299.83 235.62 299.85 235.43M300.28 229.97 300.29 229.86 300.36 229.09 300.42 228.33 300.44 228.07M300.90 222.61 300.90 222.59 300.97 221.86 301.03 221.13 301.07 220.71M301.55 215.25 301.55 215.21 301.62 214.51 301.68 213.82 301.72 213.35M302.23 207.89 302.24 207.86 302.30 207.21 302.36 206.55 302.42 205.99M302.96 200.53 302.96 200.48 303.02 199.86 303.09 199.24 303.15 198.63M303.72 193.17 303.73 193.10 303.79 192.51 303.85 191.93 303.92 191.34 303.93 191.27M304.53 185.81 304.54 185.76 304.60 185.20 304.66 184.65 304.73 184.11 304.75 183.91M305.39 178.45 305.40 178.41 305.46 177.89 305.52 177.37 305.59 176.85 305.63 176.55M306.31 171.09 306.31 171.09 306.38 170.60 306.44 170.11 306.50 169.63 306.56 169.19M307.29 163.73 307.30 163.69 307.36 163.23 307.43 162.78 307.49 162.33 307.55 161.88 307.56 161.83M308.35 156.37 308.35 156.35 308.41 155.92 308.48 155.50 308.54 155.08 308.60 154.66 308.63 154.47M309.48 149.01 309.49 148.98 309.55 148.59 309.61 148.20 309.67 147.81 309.74 147.42 309.79 147.11M310.71 141.65 310.71 141.60 310.78 141.24 310.84 140.87 310.90 140.51 310.97 140.15 311.03 139.80 311.04 139.75M312.04 134.29 312.04 134.27 312.10 133.93 312.16 133.60 312.23 133.27 312.29 132.94 312.35 132.61 312.40 132.39M313.48 126.93 313.49 126.90 313.55 126.60 313.61 126.29 313.68 125.99 313.74 125.69 313.80 125.38 313.87 125.08 313.88 125.03M315.07 119.57 315.07 119.55 315.14 119.27 315.20 118.99 315.26 118.71 315.33 118.44 315.39 118.16 315.45 117.89 315.51 117.67M316.82 112.21 316.86 112.05 317.18 110.77 317.30 110.31M318.76 104.85 318.80 104.70 319.13 103.55 319.30 102.95M320.93 97.49 320.96 97.41 321.28 96.38 321.54 95.59M323.39 90.13 323.44 89.98 323.77 89.08 324.08 88.23M326.19 82.77 326.19 82.76 326.52 81.97 326.84 81.20 326.98 80.87M329.43 75.41 329.43 75.41 329.75 74.73 330.08 74.06 330.35 73.51M333.24 68.05 333.26 68.00 333.58 67.43 333.91 66.87 334.23 66.32 334.33 66.15M337.80 60.69 337.85 60.62 338.17 60.15 338.49 59.69 338.82 59.23 339.13 58.79M343.41 53.33 343.46 53.27 343.78 52.89 344.10 52.52 344.43 52.15 344.75 51.79 345.08 51.43 345.08 51.43M350.40 46.09 350.42 46.08 350.74 45.79 351.06 45.50 351.39 45.21 351.71 44.93 352.04 44.65 352.30 44.42M357.76 40.16 357.81 40.13 358.13 39.90 358.46 39.68 358.78 39.45 359.10 39.23 359.43 39.01 359.66 38.85M365.12 35.49 365.14 35.48 365.47 35.30 365.79 35.12 366.12 34.94 366.44 34.76 366.76 34.59 367.02 34.45M372.48 31.75 372.54 31.72 372.86 31.58 373.18 31.43 373.51 31.29 373.83 31.14 374.15 31.00 374.38 30.90M379.84 28.70 379.87 28.69 380.20 28.57 380.52 28.45 380.84 28.33 381.17 28.21 381.49 28.09 381.74 28.00M387.20 26.18 387.21 26.18 387.53 26.08 387.86 25.98 388.18 25.88 388.51 25.78 388.83 25.69 389.10 25.60M394.56 24.08 394.60 24.07 394.93 23.99 395.25 23.91 395.57 23.82 395.90 23.74 396.22 23.66 396.46 23.60M401.92 22.31 401.94 22.31 402.26 22.24 402.59 22.17 402.91 22.10 403.23 22.03 403.56 21.96 403.82 21.90M409.28 20.81 409.33 20.80 409.65 20.74 409.98 20.68 410.30 20.62 410.62 20.56 410.95 20.50 411.18 20.46M416.64 19.52 416.67 19.51 416.99 19.46 417.31 19.41 417.64 19.36 417.96 19.31 418.29 19.25 418.54 19.21M424.00 18.40 424.06 18.39 424.38 18.35 424.71 18.30 425.03 18.26 425.35 18.21 425.68 18.17 425.90 18.14M431.36 17.43 431.40 17.43 431.72 17.39 432.04 17.35 432.37 17.31 432.69 17.27 433.01 17.23 433.26 17.20M438.72 16.58 438.73 16.58 439.06 16.54 439.38 16.51 439.70 16.47 440.03 16.44 440.35 16.41 440.62 16.38M446.08 15.83 446.12 15.83 446.45 15.80 446.77 15.77 447.09 15.74 447.42 15.71 447.74 15.68 447.98 15.65M453.44 15.17 453.46 15.17 453.78 15.14 454.11 15.11 454.43 15.09 454.76 15.06 455.08 15.03 455.34 15.01M460.80 14.58 460.85 14.58 461.18 14.55 461.50 14.53 461.82 14.50 462.15 14.48 462.47 14.46 462.70 14.44M468.16 14.05 468.19 14.05 468.51 14.03 468.84 14.01 469.16 13.99 469.48 13.97 469.81 13.94 470.06 13.93M475.52 13.58 475.53 13.58 475.85 13.56 476.17 13.54 476.50 13.52 476.82 13.50 477.14 13.48 477.42 13.47"/>
<path stroke="#f0f" d="M297.64 307.39 297.65 307.33 297.71 306.21 297.77 305.09 297.83 303.98 297.90 302.88 297.96 301.78 298.02 300.69 298.02 300.69M298.24 297.04 298.24 296.92 298.31 295.86 298.35 295.14M298.55 291.87 298.55 291.83 298.61 290.80 298.67 289.77 298.74 288.74 298.80 287.72 298.86 286.71 298.93 285.70 298.96 285.17M299.19 281.52 299.20 281.40 299.26 280.42 299.32 279.62M299.53 276.35 299.54 276.24 299.60 275.28 299.66 274.34 299.73 273.40 299.79 272.46 299.85 271.53 299.91 270.60 299.98 269.68 299.98 269.65M300.23 266.00 300.24 265.89 300.30 265.00 300.37 264.10 300.37 264.10M300.60 260.83 300.61 260.73 300.67 259.86 300.73 258.99 300.80 258.13 300.86 257.27 300.92 256.42 300.99 255.57 301.05 254.73 301.09 254.13M301.37 250.48 301.38 250.44 301.44 249.62 301.50 248.81 301.52 248.58M301.78 245.31 301.78 245.20 301.85 244.41 301.91 243.63 301.97 242.84 302.04 242.06 302.10 241.29 302.16 240.52 302.23 239.75 302.29 238.99 302.32 238.61M302.63 234.96 302.64 234.85 302.70 234.11 302.76 233.38 302.79 233.06M303.07 229.79 303.08 229.75 303.14 229.04 303.20 228.32 303.27 227.62 303.33 226.91 303.39 226.21 303.46 225.51 303.52 224.82 303.58 224.13 303.64 223.44 303.68 223.09M304.02 219.44 304.02 219.38 304.09 218.72 304.15 218.06 304.20 217.54M304.52 214.27 304.52 214.26 304.58 213.62 304.64 212.98 304.71 212.34 304.77 211.71 304.83 211.08 304.89 210.45 304.96 209.83 305.02 209.21 305.08 208.59 305.15 207.98 305.19 207.57M305.57 203.92 305.58 203.85 305.64 203.26 305.70 202.67 305.77 202.08 305.77 202.02M306.13 198.75 306.13 198.70 306.20 198.14 306.26 197.57 306.32 197.00 306.39 196.44 306.45 195.88 306.51 195.32 306.58 194.77 306.64 194.22 306.70 193.67 306.76 193.12 306.83 192.57 306.89 192.05M307.32 188.40 307.32 188.39 307.38 187.86 307.45 187.34 307.51 186.82 307.55 186.50M307.95 183.23 307.96 183.16 308.03 182.66 308.09 182.16 308.15 181.66 308.21 181.17 308.28 180.67 308.34 180.18 308.40 179.69 308.47 179.21 308.53 178.72 308.59 178.24 308.66 177.76 308.72 177.28 308.78 176.80 308.82 176.53M309.31 172.88 309.32 172.83 309.38 172.37 309.44 171.92 309.51 171.46 309.57 171.01 309.57 170.98M310.04 167.71 310.04 167.68 310.11 167.24 310.17 166.81 310.23 166.37 310.29 165.94 310.36 165.51 310.42 165.08 310.48 164.66 310.55 164.23 310.61 163.81 310.67 163.39 310.74 162.97 310.80 162.55 310.86 162.14 310.92 161.72 310.99 161.31 311.03 161.01M311.61 157.36 311.61 157.34 311.67 156.95 311.73 156.55 311.80 156.16 311.86 155.77 311.91 155.46M312.45 152.19 312.46 152.14 312.52 151.76 312.58 151.39 312.65 151.02 312.71 150.65 312.77 150.28 312.84 149.91 312.90 149.54 312.96 149.18 313.03 148.82 313.09 148.45 313.15 148.09 313.22 147.73 313.28 147.38 313.34 147.02 313.40 146.66 313.47 146.31 313.53 145.96 313.59 145.61 313.62 145.49M314.29 141.84 314.29 141.83 314.35 141.50 314.41 141.16 314.48 140.83 314.54 140.50 314.60 140.17 314.65 139.94M315.29 136.67 315.30 136.62 315.36 136.30 315.42 135.98 315.48 135.67 315.55 135.36 315.61 135.05 315.67 134.74 315.74 134.43 315.80 134.12 315.86 133.81 315.93 133.51 315.99 133.20 316.05 132.90 316.16 132.39 316.48 130.86 316.67 129.97M317.48 126.32 317.51 126.18 317.83 124.76 317.91 124.42M318.68 121.15 318.69 121.10 319.02 119.77 319.34 118.46 319.67 117.18 319.99 115.92 320.31 114.68 320.37 114.45M321.36 110.80 321.39 110.69 321.72 109.54 321.90 108.90M322.86 105.63 322.90 105.47 323.23 104.41 323.55 103.36 323.87 102.32 324.20 101.31 324.52 100.31 324.84 99.33 324.98 98.93M326.23 95.28 326.25 95.24 326.57 94.33 326.89 93.44 326.92 93.38M328.15 90.11 328.19 90.01 328.51 89.19 328.84 88.37 329.16 87.57 329.48 86.78 329.81 86.00 330.13 85.24 330.46 84.48 330.78 83.74 330.92 83.41M332.59 79.76 332.61 79.71 332.94 79.03 333.26 78.37 333.51 77.86M335.18 74.59 335.20 74.55 335.53 73.94 335.85 73.34 336.17 72.75 336.50 72.17 336.82 71.60 337.14 71.03 337.47 70.47 337.79 69.92 338.12 69.37 338.44 68.83 338.76 68.30 339.02 67.89M341.39 64.24 341.41 64.21 341.73 63.73 342.05 63.27 342.38 62.80 342.70 62.35 342.71 62.34M345.16 59.07 345.18 59.03 345.51 58.62 345.83 58.22 346.15 57.81 346.48 57.42 346.80 57.03 347.13 56.64 347.45 56.26 347.77 55.88 348.10 55.50 348.42 55.14 348.74 54.77 349.07 54.41 349.39 54.05 349.72 53.70 350.04 53.35 350.36 53.00 350.69 52.66 350.97 52.37M354.60 48.82 354.62 48.79 354.95 48.50 355.27 48.20 355.60 47.91 355.92 47.63 356.24 47.34 356.50 47.12M359.77 44.44 359.80 44.41 360.13 44.16 360.45 43.91 360.77 43.66 361.10 43.42 361.42 43.18 361.75 42.94 362.07 42.70 362.39 42.47 362.72 42.24 363.04 42.01 363.36 41.78 363.69 41.55 364.01 41.33 364.34 41.11 364.66 40.89 364.98 40.67 365.31 40.46 365.63 40.25 365.95 40.04 366.28 39.83 366.47 39.71M370.12 37.50 370.16 37.47 370.49 37.29 370.81 37.10 371.13 36.92 371.46 36.74 371.78 36.56 372.02 36.44M375.29 34.73 375.29 34.73 375.61 34.57 375.93 34.41 376.26 34.25 376.58 34.10 376.91 33.94 377.23 33.79 377.55 33.63 377.88 33.48 378.20 33.33 378.52 33.18 378.85 33.04 379.17 32.89 379.50 32.74 379.82 32.60 380.14 32.46 380.47 32.32 380.79 32.18 381.11 32.04 381.44 31.90 381.76 31.76 381.99 31.67M385.64 30.21 385.65 30.20 385.97 30.08 386.29 29.96 386.62 29.84 386.94 29.72 387.26 29.60 387.54 29.50M390.81 28.35 390.82 28.34 391.15 28.23 391.47 28.12 391.80 28.02 392.12 27.91 392.44 27.80 392.77 27.70 393.09 27.60 393.41 27.49 393.74 27.39 394.06 27.29 394.39 27.19 394.71 27.09 395.03 26.99 395.36 26.89 395.68 26.79 396.00 26.69 396.33 26.60 396.65 26.50 396.98 26.41 397.30 26.31 397.51 26.25M401.16 25.23 401.18 25.23 401.51 25.14 401.83 25.06 402.15 24.97 402.48 24.89 402.80 24.80 403.06 24.74M406.33 23.93 406.36 23.92 406.69 23.84 407.01 23.76 407.33 23.69 407.66 23.61 407.98 23.54 408.30 23.46 408.63 23.39 408.95 23.31 409.28 23.24 409.60 23.17 409.92 23.10 410.25 23.03 410.57 22.95 410.89 22.88 411.22 22.81 411.54 22.74 411.87 22.67 412.19 22.60 412.51 22.54 412.84 22.47 413.03 22.43M416.68 21.69 416.72 21.69 417.04 21.62 417.37 21.56 417.69 21.50 418.02 21.44 418.34 21.38 418.58 21.33M421.85 20.74 421.90 20.73 422.22 20.67 422.55 20.62 422.87 20.56 423.19 20.51 423.52 20.45 423.84 20.39 424.17 20.34 424.49 20.29 424.81 20.23 425.14 20.18 425.46 20.13 425.78 20.07 426.11 20.02 426.43 19.97 426.76 19.92 427.08 19.86 427.40 19.81 427.73 19.76 428.05 19.71 428.37 19.66 428.55 19.63M432.20 19.08 432.20 19.08 432.53 19.04 432.85 18.99 433.18 18.94 433.50 18.90 433.82 18.85 434.10 18.81M437.37 18.37 437.38 18.36 437.71 18.32 438.03 18.28 438.35 18.24 438.68 18.19 439.00 18.15 439.33 18.11 439.65 18.07 439.97 18.03 440.30 17.99 440.62 17.95 440.94 17.91 441.27 17.87 441.59 17.83 441.92 17.79 442.24 17.75 442.56 17.71 442.89 17.67 443.21 17.63 443.53 17.59 443.86 17.55 444.07 17.53M447.72 17.11 447.74 17.10 448.07 17.07 448.39 17.03 448.71 17.00 449.04 16.96 449.36 16.92 449.62 16.90M452.89 16.55 452.92 16.55 453.24 16.52 453.57 16.48 453.89 16.45 454.22 16.42 454.54 16.38 454.86 16.35 455.19 16.32 455.51 16.29 455.83 16.26 456.16 16.23 456.48 16.19 456.81 16.16 457.13 16.13 457.45 16.10 457.78 16.07 458.10 16.04 458.42 16.01 458.75 15.98 459.07 15.95 459.40 15.92 459.59 15.90M463.24 15.57 463.28 15.57 463.60 15.54 463.93 15.51 464.25 15.48 464.57 15.46 464.90 15.43 465.14 15.41M468.41 15.14 468.46 15.13 468.78 15.11 469.11 15.08 469.43 15.05 469.75 15.03 470.08 15.00 470.40 14.98 470.72 14.95 471.05 14.93 471.37 14.90 471.70 14.88 472.02 14.85 472.34 14.83 472.67 14.80 472.99 14.78 473.31 14.75 473.64 14.73 473.96 14.70 474.29 14.68 474.61 14.65 474.93 14.63 475.11 14.62"/>
<path stroke="#008c00" d="M302.99 307.57 302.99 307.49 303.06 306.51 303.12 305.53 303.18 304.56 303.25 303.59 303.31 302.62 303.34 302.07M303.57 298.67 303.57 298.65 303.63 297.71 303.70 296.78 303.70 296.77M303.89 293.92 303.90 293.84 303.96 292.92 304.02 292.02M304.25 288.77 304.25 288.70 304.32 287.81 304.38 286.92 304.44 286.03 304.51 285.15 304.57 284.27 304.63 283.40 304.64 283.27M304.89 279.87 304.89 279.81 304.96 278.96 305.02 278.11 305.03 277.97M305.25 275.12 305.25 275.04 305.31 274.21 305.38 273.38 305.39 273.22M305.64 269.97 305.65 269.85 305.71 269.04 305.78 268.24 305.84 267.44 305.90 266.65 305.97 265.86 306.03 265.07 306.08 264.47M306.35 261.07 306.35 261.06 306.42 260.29 306.48 259.53 306.51 259.17M306.75 256.32 306.75 256.27 306.82 255.52 306.88 254.78 306.91 254.42M307.19 251.17 307.20 251.12 307.26 250.40 307.32 249.68 307.38 248.97 307.45 248.26 307.51 247.55 307.57 246.84 307.64 246.14 307.68 245.67M307.99 242.27 307.99 242.21 308.06 241.53 308.12 240.85 308.16 240.37M308.43 237.52 308.44 237.50 308.50 236.84 308.56 236.18 308.61 235.62M308.93 232.37 308.94 232.28 309.00 231.64 309.07 231.00 309.13 230.37 309.19 229.73 309.25 229.10 309.32 228.48 309.38 227.85 309.44 227.23 309.48 226.87M309.83 223.47 309.83 223.46 309.90 222.85 309.96 222.25 310.02 221.66 310.03 221.57M310.33 218.72 310.34 218.70 310.40 218.12 310.46 217.54 310.53 216.96 310.54 216.82M310.90 213.57 310.90 213.54 310.97 212.97 311.03 212.41 311.09 211.86 311.16 211.30 311.22 210.75 311.28 210.20 311.35 209.65 311.41 209.10 311.47 208.56 311.53 208.07M311.93 204.67 311.93 204.63 312.00 204.10 312.06 203.58 312.12 203.06 312.16 202.77M312.51 199.92 312.51 199.88 312.57 199.37 312.64 198.87 312.70 198.36 312.74 198.02M313.16 194.77 313.16 194.73 313.23 194.24 313.29 193.76 313.35 193.27 313.41 192.79 313.48 192.31 313.54 191.83 313.60 191.36 313.67 190.88 313.73 190.41 313.79 189.94 313.86 189.47 313.88 189.27M314.35 185.87 314.35 185.85 314.41 185.40 314.48 184.95 314.54 184.50 314.60 184.05 314.61 183.97M315.02 181.12 315.02 181.10 315.09 180.67 315.15 180.23 315.21 179.80 315.27 179.37 315.30 179.22M315.78 175.97 315.79 175.91 315.85 175.49 315.92 175.08 315.98 174.66 316.04 174.25 316.10 173.84 316.43 171.76 316.63 170.47M317.18 167.07 317.18 167.04 317.49 165.17M317.97 162.32 317.99 162.21 318.30 160.42M318.88 157.17 318.91 156.99 319.23 155.22 319.56 153.47 319.88 151.75 319.90 151.67M320.56 148.27 320.58 148.13 320.91 146.51 320.93 146.37M321.52 143.52 321.55 143.34 321.88 141.80 321.91 141.62M322.62 138.37 322.63 138.30 322.96 136.84 323.28 135.41 323.60 133.99 323.86 132.87M324.68 129.47 324.68 129.45 325.01 128.14 325.15 127.57M325.87 124.72 325.92 124.53 326.25 123.29 326.37 122.82M327.25 119.57 327.27 119.50 327.60 118.34 327.92 117.20 328.24 116.08 328.57 114.97 328.83 114.07M329.87 110.67 329.92 110.54 330.24 109.51 330.48 108.77M331.41 105.92 331.43 105.89 331.75 104.93 332.06 104.02M333.21 100.77 333.26 100.65 333.58 99.77 333.91 98.90 334.23 98.04 334.56 97.19 334.88 96.36 335.20 95.54 335.31 95.27M336.70 91.87 336.71 91.85 337.04 91.09 337.36 90.34 337.52 89.97M338.80 87.12 338.82 87.08 339.14 86.39 339.46 85.70 339.69 85.22M341.29 81.97 341.30 81.96 341.62 81.33 341.95 80.70 342.27 80.09 342.59 79.48 342.92 78.88 343.24 78.28 343.56 77.70 343.89 77.12 344.21 76.54 344.25 76.47M346.27 73.07 346.32 72.99 346.64 72.47 346.96 71.95 347.29 71.44 347.46 71.17M349.35 68.32 349.39 68.27 349.72 67.80 350.04 67.34 350.36 66.88 350.69 66.43 350.69 66.42M353.13 63.17 353.17 63.13 353.49 62.72 353.82 62.31 354.14 61.91 354.46 61.51 354.79 61.12 355.11 60.73 355.43 60.35 355.76 59.97 356.08 59.59 356.40 59.22 356.73 58.85 357.05 58.49 357.38 58.13 357.70 57.77 357.79 57.67M361.06 54.28 361.10 54.24 361.42 53.92 361.75 53.61 362.07 53.30 362.39 52.99 362.72 52.69 362.96 52.46M365.81 49.92 365.85 49.90 366.17 49.62 366.49 49.35 366.82 49.08 367.14 48.82 367.46 48.55 367.71 48.35M370.96 45.85 370.97 45.85 371.30 45.61 371.62 45.38 371.94 45.14 372.27 44.91 372.59 44.69 372.91 44.46 373.24 44.24 373.56 44.01 373.88 43.79 374.21 43.58 374.53 43.36 374.86 43.15 375.18 42.93 375.50 42.72 375.83 42.52 376.15 42.31 376.46 42.11M379.86 40.06 379.87 40.06 380.20 39.87 380.52 39.69 380.84 39.51 381.17 39.33 381.49 39.15 381.76 39.00M384.61 37.49 384.62 37.49 384.94 37.32 385.27 37.16 385.59 37.00 385.92 36.84 386.24 36.68 386.51 36.55M389.76 35.03 389.80 35.01 390.12 34.87 390.45 34.72 390.77 34.58 391.09 34.44 391.42 34.30 391.74 34.16 392.07 34.02 392.39 33.88 392.71 33.75 393.04 33.61 393.36 33.48 393.68 33.35 394.01 33.22 394.33 33.08 394.66 32.95 394.98 32.83 395.26 32.71M398.66 31.42 398.70 31.41 399.03 31.29 399.35 31.18 399.67 31.06 400.00 30.94 400.32 30.83 400.56 30.74M403.41 29.78 403.45 29.77 403.77 29.66 404.10 29.56 404.42 29.45 404.74 29.35 405.07 29.25 405.31 29.17M408.56 28.18 408.57 28.17 408.90 28.08 409.22 27.99 409.55 27.89 409.87 27.80 410.19 27.71 410.52 27.61 410.84 27.52 411.16 27.43 411.49 27.34 411.81 27.25 412.14 27.16 412.46 27.08 412.78 26.99 413.11 26.90 413.43 26.82 413.75 26.73 414.06 26.65M417.46 25.78 417.48 25.78 417.80 25.70 418.12 25.62 418.45 25.54 418.77 25.47 419.09 25.39 419.36 25.33M422.21 24.67 422.22 24.67 422.55 24.60 422.87 24.52 423.19 24.45 423.52 24.38 423.84 24.31 424.11 24.25M427.36 23.57 427.40 23.56 427.73 23.50 428.05 23.43 428.37 23.37 428.70 23.30 429.02 23.24 429.35 23.18 429.67 23.11 429.99 23.05 430.32 22.99 430.64 22.93 430.96 22.86 431.29 22.80 431.61 22.74 431.93 22.68 432.26 22.62 432.58 22.56 432.86 22.51M436.26 21.90 436.30 21.89 436.63 21.84 436.95 21.78 437.28 21.73 437.60 21.67 437.92 21.62 438.16 21.58M441.01 21.11 441.05 21.11 441.38 21.06 441.70 21.00 442.02 20.95 442.35 20.90 442.67 20.85 442.91 20.81M446.16 20.33 446.18 20.32 446.50 20.28 446.82 20.23 447.15 20.18 447.47 20.14 447.80 20.09 448.12 20.05 448.44 20.00 448.77 19.95 449.09 19.91 449.41 19.86 449.74 19.82 450.06 19.77 450.39 19.73 450.71 19.69 451.03 19.64 451.36 19.60 451.66 19.56M455.06 19.12 455.08 19.11 455.40 19.07 455.73 19.03 456.05 18.99 456.37 18.95 456.70 18.91 456.96 18.88M459.81 18.54 459.83 18.54 460.15 18.50 460.47 18.46 460.80 18.42 461.12 18.38 461.45 18.35 461.71 18.32M464.96 17.96 465.01 17.95 465.33 17.92 465.65 17.88 465.98 17.85 466.30 17.81 466.62 17.78 466.95 17.74 467.27 17.71 467.60 17.68 467.92 17.64 468.24 17.61 468.57 17.57 468.89 17.54 469.21 17.51 469.54 17.48 469.86 17.44 470.19 17.41 470.46 17.38M473.86 17.05 473.91 17.05 474.23 17.01 474.56 16.98 474.88 16.95 475.20 16.92 475.53 16.89 475.76 16.87"/>
</g>
<g clip-path="url(#c2)" fill="none" stroke-width="2" stroke-linecap="butt">
<path stroke="#f00" d="M515.84 307.84 515.85 307.51 515.91 305.56 515.95 304.49M516.15 298.30 516.15 298.24 516.21 296.38 516.28 294.53 516.34 292.70 516.36 292.20M516.58 286.01 516.58 285.84 516.65 284.09 516.71 282.36 516.77 280.64 516.80 279.91M517.03 273.72 517.03 273.64 517.10 272.01 517.16 270.38 517.22 268.77 517.27 267.62M517.52 261.43 517.53 261.19 517.59 259.66 517.65 258.14 517.72 256.64 517.77 255.33M518.04 249.14 518.04 249.08 518.11 247.66 518.17 246.25 518.23 244.85 518.30 243.46 518.31 243.04M518.60 236.85 518.61 236.70 518.67 235.38 518.74 234.07 518.80 232.78 518.86 231.49 518.90 230.75M519.21 224.56 519.22 224.40 519.28 223.19 519.35 221.98 519.41 220.78 519.47 219.59 519.53 218.46M519.87 212.27 519.88 212.11 519.94 210.99 520.01 209.88 520.07 208.78 520.13 207.69 520.20 206.61 520.22 206.17M520.59 199.98 520.60 199.95 520.66 198.93 520.72 197.91 520.78 196.91 520.85 195.91 520.91 194.92 520.97 193.93 520.98 193.88M521.39 187.69 521.39 187.57 521.46 186.64 521.52 185.72 521.58 184.81 521.65 183.90 521.71 183.00 521.77 182.11 521.81 181.59M522.26 175.40 522.27 175.34 522.33 174.50 522.39 173.67 522.46 172.85 522.52 172.03 522.58 171.21 522.64 170.41 522.71 169.61 522.73 169.30M523.24 163.11 523.24 163.03 523.31 162.28 523.37 161.53 523.43 160.80 523.50 160.06 523.56 159.34 523.62 158.61 523.68 157.89 523.75 157.18 523.76 157.01M524.33 150.82 524.34 150.76 524.40 150.10 524.46 149.44 524.53 148.79 524.59 148.13 524.65 147.49 524.71 146.85 524.78 146.21 524.84 145.58 524.90 144.95 524.93 144.72M525.57 138.53 525.58 138.49 525.64 137.91 525.70 137.33 525.76 136.76 525.83 136.19 525.89 135.62 525.95 135.06 526.02 134.50 526.08 133.94 526.14 133.39 526.21 132.84 526.25 132.43M527.00 126.24 527.00 126.17 527.07 125.67 527.13 125.17 527.19 124.67 527.26 124.18 527.32 123.69 527.38 123.20 527.45 122.71 527.51 122.23 527.57 121.75 527.63 121.27 527.70 120.80 527.76 120.33 527.79 120.14M528.66 113.95 528.66 113.89 528.73 113.46 528.79 113.03 528.85 112.61 528.92 112.18 528.98 111.76 529.04 111.35 529.11 110.93 529.17 110.52 529.23 110.11 529.29 109.71 529.36 109.30 529.42 108.90 529.48 108.50 529.55 108.10 529.59 107.85M530.62 101.66 530.63 101.62 530.69 101.26 530.76 100.90 530.82 100.55 530.88 100.19 530.94 99.84 531.01 99.49 531.07 99.15 531.13 98.80 531.20 98.46 531.26 98.12 531.32 97.78 531.39 97.44 531.45 97.11 531.51 96.77 531.57 96.44 531.64 96.11 531.70 95.78 531.74 95.56M533.01 89.37 533.01 89.33 533.08 89.04 533.14 88.75 533.20 88.46 533.27 88.17 533.33 87.89 533.39 87.60 533.46 87.32 533.52 87.04 533.58 86.76 533.64 86.48 533.71 86.20 533.77 85.93 533.83 85.65 533.90 85.38 533.96 85.11 534.02 84.84 534.09 84.57 534.15 84.30 534.21 84.04 534.27 83.77 534.34 83.51 534.40 83.27M535.98 77.08 535.99 77.07 536.05 76.84 536.11 76.61 536.18 76.38 536.24 76.15 536.30 75.93 536.37 75.70 536.43 75.48 536.49 75.26 536.55 75.04 536.62 74.82 536.68 74.60 536.74 74.38 536.81 74.16 536.87 73.95 536.93 73.73 537.00 73.52 537.06 73.30 537.12 73.09 537.18 72.88 537.25 72.67 537.31 72.46 537.37 72.25 537.44 72.05 537.50 71.84 537.56 71.64 537.63 71.43 537.69 71.23 537.75 71.03 537.77 70.98M539.86 64.79 539.86 64.76 539.93 64.59 539.99 64.42 540.05 64.25 540.12 64.08 540.18 63.91 540.24 63.74 540.31 63.57 540.37 63.40 540.43 63.24 540.49 63.07 540.56 62.91 540.62 62.74 540.68 62.58 540.75 62.41 540.81 62.25 540.87 62.09 540.94 61.93 541.00 61.77 541.06 61.61 541.12 61.45 541.19 61.29 541.25 61.14 541.31 60.98 541.38 60.82 541.44 60.67 541.50 60.51 541.57 60.36 541.63 60.20 541.69 60.05 541.75 59.90 541.82 59.75 541.88 59.60 541.94 59.45 542.01 59.30 542.07 59.15 542.13 59.00 542.20 58.85 542.26 58.70 542.27 58.69M545.19 52.50 545.20 52.48 545.26 52.35 545.33 52.23 545.39 52.11 545.45 51.99 545.52 51.88 545.58 51.76 545.64 51.64 545.71 51.52 545.77 51.40 545.83 51.29 545.89 51.17 545.96 51.05 546.02 50.94 546.08 50.82 546.32 50.40 546.64 49.82 546.97 49.26 547.29 48.71 547.62 48.16 547.94 47.63 548.26 47.11 548.59 46.60 548.72 46.40M553.25 40.21 553.28 40.17 553.60 39.78 553.93 39.40 554.25 39.03 554.57 38.67 554.90 38.31 555.22 37.95 555.55 37.61 555.87 37.26 556.19 36.93 556.52 36.60 556.84 36.27 557.16 35.96 557.49 35.64 557.81 35.33 558.14 35.03 558.46 34.73 558.78 34.43 559.01 34.23M565.20 29.45 565.20 29.45 565.53 29.24 565.85 29.03 566.17 28.82 566.50 28.61 566.82 28.41 567.14 28.21 567.47 28.01 567.79 27.82 568.12 27.63 568.44 27.44 568.76 27.25 569.09 27.07 569.41 26.89 569.73 26.71 570.06 26.54 570.38 26.36 570.71 26.19 571.03 26.02 571.30 25.88M577.49 23.07 577.50 23.07 577.83 22.94 578.15 22.81 578.47 22.68 578.80 22.56 579.12 22.44 579.45 22.31 579.77 22.19 580.09 22.07 580.42 21.96 580.74 21.84 581.06 21.73 581.39 21.61 581.71 21.50 582.04 21.39 582.36 21.28 582.68 21.17 583.01 21.07 583.33 20.96 583.59 20.88M589.78 19.09 589.80 19.08 590.13 19.00 590.45 18.92 590.77 18.84 591.10 18.75 591.42 18.67 591.75 18.59 592.07 18.52 592.39 18.44 592.72 18.36 593.04 18.29 593.36 18.21 593.69 18.14 594.01 18.06 594.34 17.99 594.66 17.92 594.98 17.84 595.31 17.77 595.63 17.70 595.88 17.65M602.07 16.44 602.10 16.44 602.43 16.38 602.75 16.32 603.08 16.27 603.40 16.21 603.72 16.16 604.05 16.10 604.37 16.05 604.69 15.99 605.02 15.94 605.34 15.89 605.67 15.84 605.99 15.78 606.31 15.73 606.64 15.68 606.96 15.63 607.28 15.58 607.61 15.53 607.93 15.48 608.17 15.45M614.36 14.59 614.40 14.59 614.73 14.55 615.05 14.51 615.38 14.47 615.70 14.43 616.02 14.39 616.35 14.35 616.67 14.31 616.99 14.27 617.32 14.23 617.64 14.19 617.97 14.16 618.29 14.12 618.61 14.08 618.94 14.05 619.26 14.01 619.58 13.97 619.91 13.94 620.23 13.90 620.46 13.88M626.65 13.25 626.65 13.25 626.98 13.22 627.30 13.19 627.62 13.16 627.95 13.13 628.27 13.10 628.59 13.07 628.92 13.04 629.24 13.02 629.56 12.99 629.89 12.96 630.21 12.93 630.54 12.90 630.86 12.88 631.18 12.85 631.51 12.82 631.83 12.79 632.15 12.77 632.48 12.74 632.75 12.72M638.94 12.25 638.95 12.25 639.28 12.22 639.60 12.20 639.92 12.18 640.25 12.15 640.57 12.13 640.89 12.11 641.22 12.09 641.54 12.07 641.87 12.04 642.19 12.02 642.51 12.00 642.84 11.98 643.16 11.96 643.48 11.94 643.81 11.92 644.13 11.90 644.45 11.88 644.78 11.85 645.04 11.84M651.23 11.47 651.25 11.47 651.58 11.45 651.90 11.44 652.22 11.42 652.55 11.40 652.87 11.38 653.19 11.37 653.52 11.35 653.84 11.33 654.17 11.31 654.49 11.30 654.81 11.28 655.14 11.26 655.46 11.25 655.78 11.23 656.11 11.22 656.43 11.20 656.76 11.18 657.08 11.17 657.33 11.15M663.52 10.87 663.55 10.86 663.88 10.85 664.20 10.84 664.52 10.82 664.85 10.81 665.17 10.79 665.50 10.78 665.82 10.77 666.14 10.75 666.47 10.74 666.79 10.73 667.11 10.71 667.44 10.70 667.76 10.69 668.09 10.67 668.41 10.66 668.73 10.65 669.06 10.63 669.38 10.62 669.62 10.61M675.81 10.38 675.85 10.38 676.18 10.37 676.50 10.36 676.82 10.34 677.15 10.33 677.47 10.32 677.80 10.31 678.12 10.30 678.44 10.29 678.77 10.28 679.09 10.27 679.41 10.26 679.74 10.24 680.06 10.23 680.39 10.22 680.71 10.21 681.03 10.20 681.36 10.19 681.68 10.18 681.91 10.17M688.10 9.98 688.10 9.98 688.42 9.97 688.75 9.97 689.07 9.96 689.40 9.95 689.72 9.94 690.04 9.93 690.37 9.92 690.69 9.91 691.01 9.90 691.34 9.89 691.66 9.88 691.98 9.87 692.31 9.87 692.63 9.86 692.96 9.85 693.28 9.84 693.60 9.83 693.93 9.82 694.20 9.82M700.39 9.66 700.40 9.66 700.72 9.65 701.05 9.64 701.37 9.63 701.70 9.63 702.02 9.62 702.34 9.61 702.67 9.60 702.99 9.60 703.31 9.59 703.64 9.58 703.96 9.57 704.29 9.57 704.61 9.56 704.93 9.55 705.26 9.54 705.58 9.54 705.90 9.53 706.23 9.52 706.49 9.52"/>
<path stroke="#f0f" d="M530.20 307.88 530.21 307.70 530.27 306.66 530.31 306.00M530.51 302.73 530.51 302.71 530.58 301.69 530.64 300.68 530.70 299.67 530.77 298.67 530.83 297.68 530.89 296.68 530.93 296.03M531.17 292.38 531.18 292.28 531.24 291.32 531.29 290.48M531.51 287.21 531.51 287.20 531.57 286.26 531.64 285.32 531.70 284.39 531.76 283.47 531.83 282.55 531.89 281.63 531.95 280.72 531.97 280.51M532.22 276.86 532.23 276.82 532.29 275.93 532.35 275.05 532.36 274.96M532.59 271.69 532.60 271.56 532.67 270.69 532.73 269.83 532.79 268.98 532.86 268.13 532.92 267.28 532.98 266.44 533.05 265.61 533.09 264.99M533.37 261.34 533.37 261.34 533.43 260.53 533.50 259.72 533.52 259.44M533.78 256.17 533.78 256.12 533.84 255.33 533.91 254.55 533.97 253.76 534.03 252.99 534.10 252.21 534.16 251.44 534.22 250.67 534.29 249.91 534.32 249.47M534.63 245.82 534.63 245.78 534.69 245.03 534.76 244.30 534.79 243.92M535.07 240.65 535.08 240.54 535.15 239.82 535.21 239.11 535.27 238.40 535.34 237.69 535.40 236.99 535.46 236.29 535.52 235.59 535.59 234.90 535.65 234.21 535.67 233.95M536.01 230.30 536.02 230.23 536.08 229.56 536.14 228.90 536.19 228.40M536.51 225.13 536.51 225.06 536.58 224.42 536.64 223.77 536.70 223.13 536.76 222.49 536.83 221.85 536.89 221.22 536.95 220.59 537.02 219.96 537.08 219.34 537.14 218.71 537.17 218.43M537.55 214.78 537.55 214.73 537.62 214.13 537.68 213.53 537.74 212.94 537.75 212.88M538.10 209.61 538.10 209.60 538.16 209.02 538.22 208.44 538.29 207.86 538.35 207.29 538.41 206.72 538.48 206.15 538.54 205.59 538.60 205.02 538.67 204.46 538.73 203.90 538.79 203.35 538.84 202.91M539.26 199.26 539.27 199.25 539.33 198.71 539.39 198.18 539.45 197.64 539.49 197.36M539.88 194.09 539.88 194.06 539.95 193.55 540.01 193.03 540.07 192.52 540.14 192.01 540.20 191.51 540.26 191.00 540.33 190.50 540.39 190.00 540.45 189.50 540.52 189.00 540.58 188.51 540.64 188.01 540.70 187.52 540.72 187.39M541.20 183.74 541.21 183.66 541.27 183.19 541.33 182.72 541.40 182.25 541.45 181.84M541.90 178.57 541.90 178.56 541.97 178.10 542.03 177.65 542.09 177.20 542.15 176.75 542.22 176.31 542.28 175.86 542.34 175.42 542.41 174.98 542.47 174.54 542.53 174.10 542.60 173.67 542.66 173.23 542.72 172.80 542.78 172.37 542.85 171.94 542.86 171.87M543.40 168.22 543.40 168.22 543.47 167.80 543.53 167.39 543.59 166.98 543.66 166.57 543.70 166.32M544.21 163.05 544.21 163.03 544.28 162.64 544.34 162.24 544.40 161.85 544.47 161.46 544.53 161.08 544.59 160.69 544.65 160.30 544.72 159.92 544.78 159.54 544.84 159.16 544.91 158.78 544.97 158.40 545.03 158.02 545.10 157.65 545.16 157.28 545.22 156.90 545.28 156.53 545.32 156.35M545.95 152.70 545.96 152.66 546.02 152.30 546.08 151.95 546.29 150.80M546.89 147.53 546.91 147.40 547.24 145.69 547.56 144.00 547.88 142.35 548.19 140.83M548.94 137.18 548.96 137.04 549.29 135.51 549.34 135.28M550.05 132.01 550.10 131.80 550.42 130.36 550.74 128.95 551.07 127.55 551.39 126.19 551.60 125.31M552.50 121.66 552.52 121.58 552.85 120.31 552.99 119.76M553.86 116.49 553.87 116.43 554.20 115.24 554.52 114.08 554.84 112.93 555.17 111.80 555.49 110.69 555.76 109.79M556.87 106.14 556.89 106.08 557.22 105.06 557.48 104.24M558.56 100.97 558.57 100.96 558.89 100.02 559.21 99.09 559.54 98.17 559.86 97.27 560.19 96.38 560.51 95.51 560.83 94.64 560.97 94.27M562.41 90.62 562.45 90.51 562.77 89.72 563.10 88.94 563.19 88.72M564.60 85.45 564.61 85.44 564.93 84.72 565.26 84.00 565.58 83.30 565.90 82.61 566.23 81.93 566.55 81.25 566.88 80.59 567.20 79.93 567.52 79.29 567.79 78.75M569.73 75.10 569.73 75.09 570.06 74.51 570.38 73.93 570.71 73.36 570.80 73.20M572.75 69.93 572.76 69.92 573.08 69.40 573.40 68.89 573.73 68.38 574.05 67.88 574.37 67.39 574.70 66.90 575.02 66.42 575.35 65.94 575.67 65.47 575.99 65.01 576.32 64.55 576.64 64.10 576.96 63.65 577.27 63.23M580.09 59.58 580.09 59.57 580.42 59.18 580.74 58.78 581.06 58.40 581.39 58.01 581.67 57.68M584.62 54.41 584.62 54.41 584.95 54.07 585.27 53.73 585.60 53.40 585.92 53.07 586.24 52.75 586.57 52.43 586.89 52.11 587.21 51.79 587.54 51.48 587.86 51.17 588.19 50.87 588.51 50.57 588.83 50.27 589.16 49.97 589.48 49.68 589.80 49.39 590.13 49.10 590.45 48.82 590.77 48.54 591.10 48.26 591.28 48.10M594.93 45.17 594.98 45.13 595.31 44.89 595.63 44.64 595.95 44.40 596.28 44.17 596.60 43.93 596.83 43.77M600.10 41.53 600.11 41.52 600.43 41.31 600.76 41.10 601.08 40.90 601.40 40.69 601.73 40.49 602.05 40.29 602.37 40.09 602.70 39.89 603.02 39.69 603.35 39.50 603.67 39.31 603.99 39.12 604.32 38.93 604.64 38.74 604.96 38.56 605.29 38.37 605.61 38.19 605.93 38.01 606.26 37.83 606.58 37.65 606.80 37.53M610.45 35.65 610.47 35.64 610.79 35.48 611.11 35.32 611.44 35.17 611.76 35.01 612.09 34.86 612.35 34.73M615.62 33.26 615.65 33.25 615.97 33.11 616.29 32.98 616.62 32.84 616.94 32.70 617.26 32.57 617.59 32.43 617.91 32.30 618.24 32.17 618.56 32.04 618.88 31.91 619.21 31.78 619.53 31.65 619.85 31.53 620.18 31.40 620.50 31.28 620.82 31.15 621.15 31.03 621.47 30.91 621.80 30.79 622.12 30.67 622.32 30.60M625.97 29.31 626.00 29.30 626.33 29.19 626.65 29.08 626.98 28.98 627.30 28.87 627.62 28.77 627.87 28.69M631.14 27.67 631.18 27.66 631.51 27.56 631.83 27.46 632.15 27.37 632.48 27.27 632.80 27.18 633.13 27.09 633.45 26.99 633.77 26.90 634.10 26.81 634.42 26.72 634.74 26.63 635.07 26.54 635.39 26.45 635.72 26.36 636.04 26.27 636.36 26.19 636.69 26.10 637.01 26.02 637.33 25.93 637.66 25.85 637.84 25.80M641.49 24.89 641.54 24.87 641.87 24.80 642.19 24.72 642.51 24.64 642.84 24.57 643.16 24.49 643.39 24.44M646.66 23.71 646.67 23.70 646.99 23.63 647.31 23.56 647.64 23.50 647.96 23.43 648.29 23.36 648.61 23.29 648.93 23.22 649.26 23.16 649.58 23.09 649.90 23.02 650.23 22.96 650.55 22.89 650.88 22.83 651.20 22.76 651.52 22.70 651.85 22.64 652.17 22.57 652.49 22.51 652.82 22.45 653.14 22.39 653.36 22.34M657.01 21.67 657.03 21.67 657.35 21.61 657.67 21.56 658.00 21.50 658.32 21.44 658.64 21.39 658.91 21.34M662.18 20.80 662.20 20.79 662.53 20.74 662.85 20.69 663.18 20.64 663.50 20.59 663.82 20.54 664.15 20.49 664.47 20.43 664.79 20.38 665.12 20.33 665.44 20.29 665.77 20.24 666.09 20.19 666.41 20.14 666.74 20.09 667.06 20.04 667.38 19.99 667.71 19.95 668.03 19.90 668.35 19.85 668.68 19.81 668.88 19.78M672.53 19.27 672.56 19.26 672.89 19.22 673.21 19.18 673.53 19.13 673.86 19.09 674.18 19.05 674.43 19.02M677.70 18.60 677.74 18.59 678.07 18.55 678.39 18.52 678.71 18.48 679.04 18.44 679.36 18.40 679.68 18.36 680.01 18.32 680.33 18.28 680.66 18.24 680.98 18.20 681.30 18.17 681.63 18.13 681.95 18.09 682.27 18.05 682.60 18.02 682.92 17.98 683.24 17.94 683.57 17.91 683.89 17.87 684.22 17.83 684.40 17.81M688.05 17.42 688.10 17.42 688.42 17.38 688.75 17.35 689.07 17.31 689.40 17.28 689.72 17.25 689.95 17.22M693.22 16.90 693.23 16.90 693.55 16.87 693.87 16.84 694.20 16.81 694.52 16.77 694.84 16.74 695.17 16.71 695.49 16.68 695.82 16.65 696.14 16.62 696.46 16.59 696.79 16.56 697.11 16.53 697.43 16.50 697.76 16.47 698.08 16.44 698.40 16.42 698.73 16.39 699.05 16.36 699.38 16.33 699.70 16.30 699.92 16.28M703.57 15.97 703.58 15.97 703.91 15.94 704.23 15.92 704.56 15.89 704.88 15.86 705.20 15.84 705.47 15.81"/>
<path stroke="#00f" d="M530.24 307.25 530.24 307.18 530.30 306.14 530.35 305.35M530.69 299.89 530.69 299.84 530.76 298.84 530.81 297.99M531.16 292.53 531.16 292.44 531.23 291.48 531.28 290.63M531.65 285.17 531.66 285.01 531.72 284.08 531.78 283.27M532.16 277.81 532.16 277.71 532.23 276.82 532.29 275.93 532.29 275.91M532.69 270.45 532.69 270.41 532.75 269.55 532.81 268.70 532.83 268.55M533.24 263.09 533.25 262.98 533.31 262.16 533.37 261.34 533.38 261.19M533.81 255.73 533.81 255.73 533.88 254.94 533.94 254.15 533.97 253.83M534.41 248.37 534.42 248.27 534.48 247.52 534.55 246.77 534.57 246.47M535.04 241.01 535.05 240.90 535.12 240.18 535.18 239.47 535.21 239.11M535.70 233.65 535.70 233.63 535.77 232.95 535.83 232.26 535.88 231.75M536.39 226.29 536.40 226.26 536.46 225.60 536.52 224.95 536.58 224.39M537.12 218.93 537.12 218.92 537.18 218.30 537.25 217.68 537.31 217.07 537.32 217.03M537.89 211.57 537.89 211.55 537.95 210.96 538.01 210.38 538.08 209.79 538.09 209.67M538.70 204.21 538.70 204.18 538.76 203.63 538.82 203.07 538.89 202.52 538.91 202.31M539.55 196.85 539.56 196.76 539.62 196.23 539.69 195.71 539.75 195.19 539.78 194.95M540.45 189.49 540.46 189.41 540.53 188.92 540.59 188.42 540.65 187.93 540.70 187.59M541.41 182.13 541.42 182.09 541.48 181.63 541.54 181.16 541.61 180.70 541.67 180.23 541.67 180.23M542.44 174.77 542.44 174.76 542.50 174.32 542.56 173.88 542.63 173.45 542.69 173.01 542.71 172.87M543.53 167.41 543.53 167.39 543.59 166.98 543.66 166.57 543.72 166.17 543.78 165.76 543.82 165.51M544.70 160.05 544.71 159.98 544.77 159.60 544.83 159.22 544.90 158.84 544.96 158.46 545.01 158.15M545.95 152.69 545.96 152.66 546.02 152.30 546.08 151.95 546.29 150.79M547.31 145.33 547.35 145.12 547.67 143.45 547.67 143.43M548.77 137.97 548.80 137.82 549.13 136.28 549.17 136.07M550.37 130.61 550.37 130.60 550.69 129.18 550.80 128.71M552.11 123.25 552.15 123.08 552.47 121.79 552.58 121.35M554.02 115.89 554.04 115.83 554.36 114.66 554.55 113.99M556.14 108.53 556.14 108.52 556.46 107.46 556.72 106.63M558.50 101.17 558.51 101.12 558.84 100.18 559.15 99.27M561.15 93.81 561.16 93.79 561.48 92.95 561.80 92.13 561.89 91.91M564.16 86.45 564.18 86.41 564.50 85.68 564.83 84.95 565.01 84.55M567.62 79.09 567.63 79.07 567.95 78.44 568.28 77.81 568.60 77.19 568.61 77.19M571.66 71.73 571.68 71.70 572.00 71.16 572.32 70.62 572.65 70.09 572.81 69.83M576.45 64.37 576.48 64.32 576.80 63.87 577.13 63.43 577.45 62.99 577.77 62.55 577.84 62.47M582.26 57.01 582.30 56.95 582.63 56.59 582.95 56.22 583.28 55.86 583.60 55.51 583.92 55.16 583.97 55.11M589.35 49.80 589.37 49.78 589.70 49.49 590.02 49.20 590.34 48.91 590.67 48.63 590.99 48.35 591.25 48.13M596.71 43.86 596.71 43.85 597.03 43.62 597.36 43.39 597.68 43.16 598.00 42.94 598.33 42.71 598.61 42.52M604.07 39.08 604.10 39.06 604.42 38.87 604.75 38.68 605.07 38.50 605.40 38.31 605.72 38.13 605.97 37.99M611.43 35.17 611.44 35.17 611.76 35.01 612.09 34.86 612.41 34.71 612.73 34.56 613.06 34.41 613.33 34.28M618.79 31.95 618.83 31.93 619.15 31.80 619.48 31.68 619.80 31.55 620.12 31.42 620.45 31.30 620.69 31.21M626.15 29.25 626.17 29.25 626.49 29.14 626.81 29.03 627.14 28.92 627.46 28.82 627.78 28.71 628.05 28.63M633.51 26.98 633.56 26.96 633.88 26.87 634.20 26.78 634.53 26.69 634.85 26.60 635.18 26.51 635.41 26.45M640.87 25.04 640.89 25.03 641.22 24.95 641.54 24.87 641.87 24.80 642.19 24.72 642.51 24.64 642.77 24.58M648.23 23.37 648.23 23.37 648.56 23.30 648.88 23.24 649.20 23.17 649.53 23.10 649.85 23.04 650.13 22.98M655.59 21.93 655.62 21.92 655.95 21.86 656.27 21.81 656.59 21.75 656.92 21.69 657.24 21.63 657.49 21.59M662.95 20.67 662.96 20.67 663.28 20.62 663.61 20.57 663.93 20.52 664.25 20.47 664.58 20.42 664.85 20.38M670.31 19.57 670.35 19.57 670.67 19.52 671.00 19.48 671.32 19.43 671.65 19.39 671.97 19.34 672.21 19.31M677.67 18.60 677.69 18.60 678.01 18.56 678.34 18.52 678.66 18.48 678.98 18.44 679.31 18.40 679.57 18.37M685.03 17.75 685.08 17.74 685.40 17.70 685.73 17.67 686.05 17.63 686.37 17.60 686.70 17.56 686.93 17.54M692.39 16.98 692.42 16.98 692.74 16.95 693.06 16.91 693.39 16.88 693.71 16.85 694.03 16.82 694.29 16.80M699.75 16.30 699.75 16.30 700.08 16.27 700.40 16.24 700.72 16.21 701.05 16.18 701.37 16.16 701.65 16.13M707.11 15.68 707.14 15.68 707.47 15.65 707.79 15.63 707.90 15.62"/>
<path stroke="#008c00" d="M538.37 305.29 538.37 305.26 538.44 304.44 538.50 303.62 538.56 302.80 538.62 301.99 538.69 301.18 538.75 300.38 538.80 299.79M539.07 296.39 539.08 296.26 539.14 295.48 539.20 294.69 539.22 294.49M539.45 291.64 539.45 291.59 539.52 290.83 539.58 290.06 539.61 289.74M539.88 286.49 539.88 286.41 539.95 285.66 540.01 284.91 540.07 284.17 540.14 283.43 540.20 282.70 540.26 281.96 540.33 281.23 540.35 280.99M540.64 277.59 540.65 277.50 540.71 276.79 540.78 276.08 540.81 275.69M541.07 272.84 541.07 272.80 541.14 272.10 541.20 271.41 541.24 270.94M541.54 267.69 541.54 267.65 541.61 266.97 541.67 266.30 541.73 265.63 541.80 264.96 541.86 264.29 541.92 263.63 541.99 262.97 542.05 262.31 542.06 262.19M542.39 258.79 542.40 258.73 542.46 258.09 542.52 257.45 542.58 256.89M542.86 254.04 542.87 253.97 542.93 253.35 542.99 252.72 543.05 252.14M543.39 248.89 543.39 248.83 543.46 248.23 543.52 247.62 543.58 247.02 543.65 246.42 543.71 245.82 543.77 245.23 543.84 244.63 543.90 244.04 543.96 243.45 543.97 243.39M544.34 239.99 544.34 239.96 544.40 239.39 544.47 238.82 544.53 238.25 544.55 238.09M544.87 235.24 544.88 235.15 544.94 234.59 545.00 234.04 545.06 233.48 545.08 233.34M545.46 230.09 545.46 230.02 545.53 229.48 545.59 228.95 545.65 228.41 545.72 227.88 545.78 227.35 545.84 226.82 545.90 226.29 545.97 225.76 546.03 225.24 546.09 224.72 546.11 224.59M546.53 221.19 546.54 221.11 546.76 219.29M547.12 216.44 547.13 216.39 547.37 214.54M547.79 211.29 547.83 211.01 548.15 208.60 548.48 206.23 548.54 205.79M549.01 202.39 549.02 202.36 549.28 200.49M549.70 197.64 549.72 197.50 549.98 195.74M550.47 192.49 550.47 192.45 550.80 190.35 551.12 188.28 551.33 186.99M551.88 183.59 551.93 183.26 552.19 181.69M552.67 178.84 552.69 178.76 553.00 176.94M553.57 173.69 553.60 173.51 553.93 171.71 554.25 169.94 554.57 168.20 554.58 168.19M555.22 164.79 555.28 164.52 555.60 162.89M556.16 160.04 556.19 159.89 556.52 158.30 556.55 158.14M557.23 154.89 557.27 154.70 557.60 153.19 557.92 151.70 558.24 150.24 558.43 149.39M559.21 145.99 559.21 145.97 559.54 144.59 559.66 144.09M560.35 141.24 560.35 141.23 560.67 139.92 560.82 139.34M561.64 136.09 561.70 135.89 562.02 134.65 562.34 133.43 562.67 132.23 562.99 131.05 563.12 130.59M564.08 127.19 564.12 127.03 564.45 125.91 564.63 125.29M565.49 122.44 565.53 122.31 565.85 121.26 566.08 120.54M567.12 117.29 567.14 117.20 567.47 116.22 567.79 115.25 568.12 114.29 568.44 113.35 568.76 112.41 568.98 111.79M570.21 108.39 570.22 108.36 570.54 107.50 570.87 106.64 570.92 106.49M572.03 103.64 572.05 103.58 572.38 102.77 572.70 101.98 572.80 101.74M574.16 98.49 574.21 98.37 574.54 97.63 574.86 96.89 575.18 96.16 575.51 95.44 575.83 94.73 576.15 94.03 576.48 93.34 576.64 92.99M578.30 89.59 578.31 89.56 578.64 88.92 578.96 88.28 579.27 87.69M580.79 84.84 580.79 84.82 581.12 84.23 581.44 83.65 581.77 83.08 581.84 82.94M583.75 79.69 583.76 79.67 584.09 79.14 584.41 78.61 584.73 78.09 585.06 77.58 585.38 77.07 585.70 76.56 586.03 76.07 586.35 75.57 586.67 75.09 587.00 74.60 587.28 74.19M589.69 70.79 589.70 70.77 590.02 70.34 590.34 69.90 590.67 69.48 590.99 69.05 591.12 68.89M593.39 66.04 593.42 66.00 593.74 65.61 594.07 65.22 594.39 64.84 594.71 64.46 595.00 64.14M597.94 60.89 597.95 60.88 598.27 60.53 598.60 60.20 598.92 59.86 599.25 59.53 599.57 59.21 599.89 58.88 600.22 58.56 600.54 58.24 600.86 57.92 601.19 57.61 601.51 57.30 601.83 56.99 602.16 56.69 602.48 56.39 602.81 56.09 603.13 55.79 603.39 55.56M606.79 52.63 606.80 52.62 607.12 52.35 607.45 52.09 607.77 51.83 608.09 51.57 608.42 51.31 608.69 51.10M611.54 48.96 611.55 48.95 611.87 48.72 612.19 48.48 612.52 48.25 612.84 48.03 613.16 47.80 613.44 47.61M616.69 45.46 616.72 45.43 617.05 45.23 617.37 45.02 617.70 44.82 618.02 44.62 618.34 44.42 618.67 44.23 618.99 44.03 619.31 43.84 619.64 43.65 619.96 43.45 620.29 43.27 620.61 43.08 620.93 42.89 621.26 42.71 621.58 42.52 621.90 42.34 622.19 42.18M625.59 40.37 625.63 40.35 625.95 40.18 626.27 40.02 626.60 39.86 626.92 39.69 627.24 39.53 627.49 39.41M630.34 38.06 630.37 38.04 630.70 37.89 631.02 37.75 631.35 37.60 631.67 37.46 631.99 37.31 632.24 37.20M635.49 35.82 635.50 35.82 635.82 35.68 636.15 35.55 636.47 35.42 636.79 35.29 637.12 35.16 637.44 35.04 637.77 34.91 638.09 34.78 638.41 34.66 638.74 34.53 639.06 34.41 639.38 34.29 639.71 34.17 640.03 34.04 640.35 33.92 640.68 33.81 640.99 33.69M644.39 32.49 644.40 32.49 644.72 32.38 645.05 32.27 645.37 32.16 645.70 32.05 646.02 31.95 646.29 31.86M649.14 30.95 649.15 30.95 649.47 30.85 649.80 30.75 650.12 30.65 650.44 30.55 650.77 30.46 651.04 30.38M654.29 29.44 654.33 29.43 654.65 29.34 654.98 29.25 655.30 29.16 655.62 29.07 655.95 28.98 656.27 28.90 656.59 28.81 656.92 28.72 657.24 28.64 657.56 28.55 657.89 28.47 658.21 28.38 658.54 28.30 658.86 28.22 659.18 28.13 659.51 28.05 659.79 27.98M663.19 27.15 663.23 27.14 663.55 27.06 663.88 26.99 664.20 26.91 664.52 26.84 664.85 26.76 665.09 26.71M667.94 26.07 667.98 26.06 668.30 25.99 668.62 25.92 668.95 25.85 669.27 25.79 669.60 25.72 669.84 25.67M673.09 25.00 673.10 25.00 673.43 24.93 673.75 24.87 674.07 24.81 674.40 24.74 674.72 24.68 675.04 24.62 675.37 24.56 675.69 24.50 676.02 24.43 676.34 24.37 676.66 24.31 676.99 24.25 677.31 24.19 677.63 24.13 677.96 24.07 678.28 24.01 678.59 23.96M681.99 23.36 682.00 23.36 682.33 23.30 682.65 23.25 682.98 23.19 683.30 23.14 683.62 23.08 683.89 23.04M686.74 22.58 686.75 22.58 687.08 22.52 687.40 22.47 687.72 22.42 688.05 22.37 688.37 22.32 688.64 22.28M691.89 21.79 691.93 21.79 692.25 21.74 692.58 21.69 692.90 21.65 693.23 21.60 693.55 21.55 693.87 21.51 694.20 21.46 694.52 21.42 694.84 21.37 695.17 21.33 695.49 21.28 695.82 21.24 696.14 21.19 696.46 21.15 696.79 21.10 697.11 21.06 697.39 21.02M700.79 20.58 700.83 20.57 701.16 20.53 701.48 20.49 701.80 20.45 702.13 20.41 702.45 20.37 702.69 20.34M705.54 19.99 705.58 19.99 705.90 19.95 706.23 19.91 706.55 19.87 706.87 19.83 707.20 19.80 707.44 19.77"/>
</g>
<g stroke="#000" stroke-width="1.8" fill="none">
<rect x="56.30" y="7.00" width="191.60" height="288.00"/>
<path d="M77.59 295.00v-7.60M77.59 7.00v7.60M98.88 295.00v-3.90M98.88 7.00v3.90M120.17 295.00v-7.60M120.17 7.00v7.60M141.46 295.00v-3.90M141.46 7.00v3.90M162.74 295.00v-7.60M162.74 7.00v7.60M184.03 295.00v-3.90M184.03 7.00v3.90M205.32 295.00v-7.60M205.32 7.00v7.60M226.61 295.00v-3.90M226.61 7.00v3.90M56.30 43.00h3.90M247.90 43.00h-3.90M56.30 79.00h7.60M247.90 79.00h-7.60M56.30 115.00h3.90M247.90 115.00h-3.90M56.30 151.00h7.60M247.90 151.00h-7.60M56.30 187.00h3.90M247.90 187.00h-3.90M56.30 223.00h7.60M247.90 223.00h-7.60M56.30 259.00h3.90M247.90 259.00h-3.90"/>
</g>
<g stroke="#000" stroke-width="1.8" fill="none">
<rect x="286.30" y="7.00" width="191.60" height="288.00"/>
<path d="M307.59 295.00v-7.60M307.59 7.00v7.60M328.88 295.00v-3.90M328.88 7.00v3.90M350.17 295.00v-7.60M350.17 7.00v7.60M371.46 295.00v-3.90M371.46 7.00v3.90M392.74 295.00v-7.60M392.74 7.00v7.60M414.03 295.00v-3.90M414.03 7.00v3.90M435.32 295.00v-7.60M435.32 7.00v7.60M456.61 295.00v-3.90M456.61 7.00v3.90M286.30 43.00h3.90M477.90 43.00h-3.90M286.30 79.00h7.60M477.90 79.00h-7.60M286.30 115.00h3.90M477.90 115.00h-3.90M286.30 151.00h7.60M477.90 151.00h-7.60M286.30 187.00h3.90M477.90 187.00h-3.90M286.30 223.00h7.60M477.90 223.00h-7.60M286.30 259.00h3.90M477.90 259.00h-3.90"/>
</g>
<g stroke="#000" stroke-width="1.8" fill="none">
<rect x="516.30" y="7.00" width="191.60" height="288.00"/>
<path d="M537.59 295.00v-7.60M537.59 7.00v7.60M558.88 295.00v-3.90M558.88 7.00v3.90M580.17 295.00v-7.60M580.17 7.00v7.60M601.46 295.00v-3.90M601.46 7.00v3.90M622.74 295.00v-7.60M622.74 7.00v7.60M644.03 295.00v-3.90M644.03 7.00v3.90M665.32 295.00v-7.60M665.32 7.00v7.60M686.61 295.00v-3.90M686.61 7.00v3.90M516.30 43.00h3.90M707.90 43.00h-3.90M516.30 79.00h7.60M707.90 79.00h-7.60M516.30 115.00h3.90M707.90 115.00h-3.90M516.30 151.00h7.60M707.90 151.00h-7.60M516.30 187.00h3.90M707.90 187.00h-3.90M516.30 223.00h7.60M707.90 223.00h-7.60M516.30 259.00h3.90M707.90 259.00h-3.90"/>
</g>
<g font-size="14" fill="#000" letter-spacing="0.30">
<text x="49.30" y="11.4" text-anchor="end">0</text>
<text x="715.5" y="11.4">0</text>
<text x="49.30" y="83.4" text-anchor="end">-5</text>
<text x="715.5" y="83.4">-5</text>
<text x="49.30" y="155.4" text-anchor="end">-10</text>
<text x="715.5" y="155.4">-10</text>
<text x="49.30" y="227.4" text-anchor="end">-15</text>
<text x="715.5" y="227.4">-15</text>
<text x="49.30" y="299.4" text-anchor="end">-20</text>
<text x="715.5" y="299.4">-20</text>
<text x="56.45" y="314" text-anchor="middle">5</text>
<text x="77.74" y="314" text-anchor="middle">10</text>
<text x="120.32" y="314" text-anchor="middle">20</text>
<text x="162.89" y="314" text-anchor="middle">30</text>
<text x="205.47" y="314" text-anchor="middle">40</text>
<text x="248.05" y="314" text-anchor="middle">50</text>
<text x="152.25" y="339.5" text-anchor="middle">R [nm]</text>
<text x="286.45" y="314" text-anchor="middle">5</text>
<text x="307.74" y="314" text-anchor="middle">10</text>
<text x="350.32" y="314" text-anchor="middle">20</text>
<text x="392.89" y="314" text-anchor="middle">30</text>
<text x="435.47" y="314" text-anchor="middle">40</text>
<text x="478.05" y="314" text-anchor="middle">50</text>
<text x="382.25" y="339.5" text-anchor="middle">R [nm]</text>
<text x="516.45" y="314" text-anchor="middle">5</text>
<text x="537.74" y="314" text-anchor="middle">10</text>
<text x="580.32" y="314" text-anchor="middle">20</text>
<text x="622.89" y="314" text-anchor="middle">30</text>
<text x="665.47" y="314" text-anchor="middle">40</text>
<text x="708.05" y="314" text-anchor="middle">50</text>
<text x="612.25" y="339.5" text-anchor="middle">R [nm]</text>
<text x="219.7" y="40">(a)</text>
<text x="175.7" y="75.3">GaAs</text>
<text x="445.9" y="40">(b)</text>
<text x="411.8" y="75.3">InAs</text>
<text x="678.6" y="40">(c)</text>
<text x="646.9" y="75.3">InSb</text>
<text transform="translate(12.8,241.0) rotate(-90)" letter-spacing="0.36">E<tspan font-size="8.5" dy="6.0">ex</tspan><tspan dy="-6.0">(k</tspan><tspan font-size="8.5" dy="6.0">z</tspan><tspan dy="-6.0">=0)-E</tspan><tspan font-size="8.5" dy="6.0">g</tspan><tspan dy="-6.0">(k</tspan><tspan font-size="8.5" dy="6.0">z</tspan><tspan dy="-6.0">=0) [meV]</tspan></text>
</g>
</svg>
</body></html>
